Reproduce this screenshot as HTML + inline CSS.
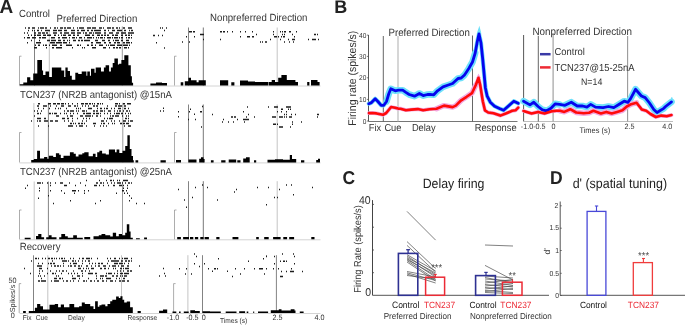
<!DOCTYPE html>
<html><head><meta charset="utf-8"><style>
html,body{margin:0;padding:0;background:#fff;}
svg{display:block;font-family:"Liberation Sans", sans-serif;will-change:transform;text-rendering:geometricPrecision;}
</style></head><body>
<svg width="685" height="325" viewBox="0 0 685 325">
<rect width="685" height="325" fill="#fff"/>
<text transform="translate(-0.6,13.1) scale(1,1.02)" font-size="19" fill="#222" text-anchor="start" font-weight="bold" >A</text>
<text transform="translate(19.0,16.7) scale(1,1.08)" font-size="9.6" fill="#333" text-anchor="start" font-weight="normal" >Control</text>
<text transform="translate(56.5,22.4) scale(1,1.08)" font-size="9.63" fill="#333" text-anchor="start" font-weight="normal" >Preferred Direction</text>
<text transform="translate(210.1,21.0) scale(1,1.08)" font-size="9.63" fill="#333" text-anchor="start" font-weight="normal" >Nonpreferred Direction</text>
<text transform="translate(20.0,97.6) scale(1,1.08)" font-size="9.58" fill="#333" text-anchor="start" font-weight="normal" >TCN237 (NR2B antagonist) @15nA</text>
<text transform="translate(20.0,174.9) scale(1,1.08)" font-size="9.58" fill="#333" text-anchor="start" font-weight="normal" >TCN237 (NR2B antagonist) @25nA</text>
<text transform="translate(19.8,249.7) scale(1,1.08)" font-size="9.65" fill="#333" text-anchor="start" font-weight="normal" >Recovery</text>
<line x1="19.5" y1="86.0" x2="320.5" y2="86.0" stroke="#cfcfcf" stroke-width="0.9" />
<line x1="34.5" y1="30.5" x2="34.5" y2="85.5" stroke="#5a5a5a" stroke-width="0.75" />
<line x1="49.3" y1="31.0" x2="49.3" y2="85.5" stroke="#c4c4c4" stroke-width="1.0" />
<line x1="122.3" y1="26.5" x2="122.3" y2="85.5" stroke="#9a9a9a" stroke-width="1.0" />
<line x1="188.5" y1="27.5" x2="188.5" y2="85.5" stroke="#5a5a5a" stroke-width="0.75" />
<line x1="203.3" y1="27.5" x2="203.3" y2="85.5" stroke="#777" stroke-width="1.0" />
<line x1="277.2" y1="27.5" x2="277.2" y2="85.5" stroke="#c4c4c4" stroke-width="1.0" />
<line x1="19.5" y1="56.2" x2="19.5" y2="85.5" stroke="#8a8a8a" stroke-width="0.7" />
<line x1="19.5" y1="56.2" x2="21.5" y2="56.2" stroke="#8a8a8a" stroke-width="0.7" />
<line x1="174.5" y1="56.2" x2="174.5" y2="85.5" stroke="#8a8a8a" stroke-width="0.7" />
<line x1="174.5" y1="56.2" x2="176.5" y2="56.2" stroke="#8a8a8a" stroke-width="0.7" />
<path d="M25.00 27.15h1.00v1.5h-1.00ZM28.00 27.15h1.00v1.5h-1.00ZM29.00 27.15h1.00v1.5h-1.00ZM32.00 27.15h1.00v1.5h-1.00ZM33.00 27.15h1.00v1.5h-1.00ZM34.00 27.15h1.00v1.5h-1.00ZM38.00 27.15h1.00v1.5h-1.00ZM40.00 27.15h1.00v1.5h-1.00ZM41.00 27.15h1.00v1.5h-1.00ZM42.00 27.15h1.00v1.5h-1.00ZM43.00 27.15h1.00v1.5h-1.00ZM45.00 27.15h1.00v1.5h-1.00ZM46.00 27.15h1.00v1.5h-1.00ZM50.00 27.15h1.00v1.5h-1.00ZM54.00 27.15h1.00v1.5h-1.00ZM55.00 27.15h1.00v1.5h-1.00ZM57.00 27.15h1.00v1.5h-1.00ZM60.00 27.15h1.00v1.5h-1.00ZM61.00 27.15h1.00v1.5h-1.00ZM62.00 27.15h1.00v1.5h-1.00ZM64.00 27.15h1.00v1.5h-1.00ZM65.00 27.15h1.00v1.5h-1.00ZM67.00 27.15h1.00v1.5h-1.00ZM68.00 27.15h1.00v1.5h-1.00ZM69.00 27.15h1.00v1.5h-1.00ZM70.00 27.15h1.00v1.5h-1.00ZM73.00 27.15h1.00v1.5h-1.00ZM77.00 27.15h1.00v1.5h-1.00ZM79.00 27.15h1.00v1.5h-1.00ZM80.00 27.15h1.00v1.5h-1.00ZM81.00 27.15h1.00v1.5h-1.00ZM82.00 27.15h1.00v1.5h-1.00ZM83.00 27.15h1.00v1.5h-1.00ZM87.00 27.15h1.00v1.5h-1.00ZM88.00 27.15h1.00v1.5h-1.00ZM89.00 27.15h1.00v1.5h-1.00ZM90.00 27.15h1.00v1.5h-1.00ZM92.00 27.15h1.00v1.5h-1.00ZM93.00 27.15h1.00v1.5h-1.00ZM94.00 27.15h1.00v1.5h-1.00ZM95.00 27.15h1.00v1.5h-1.00ZM99.00 27.15h1.00v1.5h-1.00ZM100.00 27.15h1.00v1.5h-1.00ZM101.00 27.15h1.00v1.5h-1.00ZM103.00 27.15h1.00v1.5h-1.00ZM107.00 27.15h1.00v1.5h-1.00ZM108.00 27.15h1.00v1.5h-1.00ZM109.00 27.15h1.00v1.5h-1.00ZM110.00 27.15h1.00v1.5h-1.00ZM112.00 27.15h1.00v1.5h-1.00ZM113.00 27.15h1.00v1.5h-1.00ZM116.00 27.15h1.00v1.5h-1.00ZM117.00 27.15h1.00v1.5h-1.00ZM119.00 27.15h1.00v1.5h-1.00ZM123.00 27.15h1.00v1.5h-1.00ZM124.00 27.15h1.00v1.5h-1.00ZM128.00 27.15h1.00v1.5h-1.00ZM129.00 27.15h1.00v1.5h-1.00ZM130.00 27.15h1.00v1.5h-1.00ZM131.00 27.15h1.00v1.5h-1.00Z" fill="#1c1c1c"/>
<path d="M28.00 29.65h1.00v1.5h-1.00ZM32.00 29.65h1.00v1.5h-1.00ZM34.00 29.65h1.00v1.5h-1.00ZM37.00 29.65h1.00v1.5h-1.00ZM38.00 29.65h1.00v1.5h-1.00ZM41.00 29.65h1.00v1.5h-1.00ZM45.00 29.65h1.00v1.5h-1.00ZM46.00 29.65h1.00v1.5h-1.00ZM47.00 29.65h1.00v1.5h-1.00ZM48.00 29.65h1.00v1.5h-1.00ZM49.00 29.65h1.00v1.5h-1.00ZM53.00 29.65h1.00v1.5h-1.00ZM54.00 29.65h1.00v1.5h-1.00ZM55.00 29.65h1.00v1.5h-1.00ZM56.00 29.65h1.00v1.5h-1.00ZM58.00 29.65h1.00v1.5h-1.00ZM59.00 29.65h1.00v1.5h-1.00ZM60.00 29.65h1.00v1.5h-1.00ZM61.00 29.65h1.00v1.5h-1.00ZM64.00 29.65h1.00v1.5h-1.00ZM65.00 29.65h1.00v1.5h-1.00ZM66.00 29.65h1.00v1.5h-1.00ZM71.00 29.65h1.00v1.5h-1.00ZM72.00 29.65h1.00v1.5h-1.00ZM73.00 29.65h1.00v1.5h-1.00ZM74.00 29.65h1.00v1.5h-1.00ZM77.00 29.65h1.00v1.5h-1.00ZM78.00 29.65h1.00v1.5h-1.00ZM81.00 29.65h1.00v1.5h-1.00ZM82.00 29.65h1.00v1.5h-1.00ZM83.00 29.65h1.00v1.5h-1.00ZM84.00 29.65h1.00v1.5h-1.00ZM87.00 29.65h1.00v1.5h-1.00ZM88.00 29.65h1.00v1.5h-1.00ZM91.00 29.65h1.00v1.5h-1.00ZM92.00 29.65h1.00v1.5h-1.00ZM94.00 29.65h1.00v1.5h-1.00ZM95.00 29.65h1.00v1.5h-1.00ZM96.00 29.65h1.00v1.5h-1.00ZM97.00 29.65h1.00v1.5h-1.00ZM98.00 29.65h1.00v1.5h-1.00ZM99.00 29.65h1.00v1.5h-1.00ZM100.00 29.65h1.00v1.5h-1.00ZM104.00 29.65h1.00v1.5h-1.00ZM105.00 29.65h1.00v1.5h-1.00ZM108.00 29.65h1.00v1.5h-1.00ZM112.00 29.65h1.00v1.5h-1.00ZM113.00 29.65h1.00v1.5h-1.00ZM114.00 29.65h1.00v1.5h-1.00ZM117.00 29.65h1.00v1.5h-1.00ZM118.00 29.65h1.00v1.5h-1.00ZM119.00 29.65h1.00v1.5h-1.00ZM120.00 29.65h1.00v1.5h-1.00ZM121.00 29.65h1.00v1.5h-1.00ZM124.00 29.65h1.00v1.5h-1.00ZM125.00 29.65h1.00v1.5h-1.00ZM129.00 29.65h1.00v1.5h-1.00ZM131.00 29.65h1.00v1.5h-1.00ZM132.00 29.65h1.00v1.5h-1.00Z" fill="#1c1c1c"/>
<path d="M24.00 32.15h1.00v1.5h-1.00ZM27.00 32.15h1.00v1.5h-1.00ZM34.00 32.15h1.00v1.5h-1.00ZM35.00 32.15h1.00v1.5h-1.00ZM38.00 32.15h1.00v1.5h-1.00ZM39.00 32.15h1.00v1.5h-1.00ZM40.00 32.15h1.00v1.5h-1.00ZM42.00 32.15h1.00v1.5h-1.00ZM43.00 32.15h1.00v1.5h-1.00ZM44.00 32.15h1.00v1.5h-1.00ZM46.00 32.15h1.00v1.5h-1.00ZM47.00 32.15h1.00v1.5h-1.00ZM53.00 32.15h1.00v1.5h-1.00ZM54.00 32.15h1.00v1.5h-1.00ZM55.00 32.15h1.00v1.5h-1.00ZM56.00 32.15h1.00v1.5h-1.00ZM60.00 32.15h1.00v1.5h-1.00ZM61.00 32.15h1.00v1.5h-1.00ZM64.00 32.15h1.00v1.5h-1.00ZM65.00 32.15h1.00v1.5h-1.00ZM66.00 32.15h1.00v1.5h-1.00ZM67.00 32.15h1.00v1.5h-1.00ZM68.00 32.15h1.00v1.5h-1.00ZM71.00 32.15h1.00v1.5h-1.00ZM72.00 32.15h1.00v1.5h-1.00ZM73.00 32.15h1.00v1.5h-1.00ZM74.00 32.15h1.00v1.5h-1.00ZM77.00 32.15h1.00v1.5h-1.00ZM78.00 32.15h1.00v1.5h-1.00ZM79.00 32.15h1.00v1.5h-1.00ZM80.00 32.15h1.00v1.5h-1.00ZM83.00 32.15h1.00v1.5h-1.00ZM85.00 32.15h1.00v1.5h-1.00ZM86.00 32.15h1.00v1.5h-1.00ZM89.00 32.15h1.00v1.5h-1.00ZM90.00 32.15h1.00v1.5h-1.00ZM91.00 32.15h1.00v1.5h-1.00ZM93.00 32.15h1.00v1.5h-1.00ZM95.00 32.15h1.00v1.5h-1.00ZM96.00 32.15h1.00v1.5h-1.00ZM97.00 32.15h1.00v1.5h-1.00ZM98.00 32.15h1.00v1.5h-1.00ZM99.00 32.15h1.00v1.5h-1.00ZM100.00 32.15h1.00v1.5h-1.00ZM104.00 32.15h1.00v1.5h-1.00ZM105.00 32.15h1.00v1.5h-1.00ZM109.00 32.15h1.00v1.5h-1.00ZM110.00 32.15h1.00v1.5h-1.00ZM111.00 32.15h1.00v1.5h-1.00ZM112.00 32.15h1.00v1.5h-1.00ZM116.00 32.15h1.00v1.5h-1.00ZM117.00 32.15h1.00v1.5h-1.00ZM118.00 32.15h1.00v1.5h-1.00ZM121.00 32.15h1.00v1.5h-1.00ZM122.00 32.15h1.00v1.5h-1.00ZM123.00 32.15h1.00v1.5h-1.00ZM124.00 32.15h1.00v1.5h-1.00ZM125.00 32.15h1.00v1.5h-1.00ZM128.00 32.15h1.00v1.5h-1.00ZM129.00 32.15h1.00v1.5h-1.00ZM130.00 32.15h1.00v1.5h-1.00ZM131.00 32.15h1.00v1.5h-1.00ZM132.00 32.15h1.00v1.5h-1.00ZM133.00 32.15h1.00v1.5h-1.00Z" fill="#1c1c1c"/>
<path d="M28.00 34.55h1.00v1.5h-1.00ZM31.00 34.55h1.00v1.5h-1.00ZM34.00 34.55h1.00v1.5h-1.00ZM35.00 34.55h1.00v1.5h-1.00ZM37.00 34.55h1.00v1.5h-1.00ZM38.00 34.55h1.00v1.5h-1.00ZM39.00 34.55h1.00v1.5h-1.00ZM40.00 34.55h1.00v1.5h-1.00ZM43.00 34.55h1.00v1.5h-1.00ZM44.00 34.55h1.00v1.5h-1.00ZM45.00 34.55h1.00v1.5h-1.00ZM47.00 34.55h1.00v1.5h-1.00ZM48.00 34.55h1.00v1.5h-1.00ZM49.00 34.55h1.00v1.5h-1.00ZM50.00 34.55h1.00v1.5h-1.00ZM54.00 34.55h1.00v1.5h-1.00ZM55.00 34.55h1.00v1.5h-1.00ZM58.00 34.55h1.00v1.5h-1.00ZM61.00 34.55h1.00v1.5h-1.00ZM63.00 34.55h1.00v1.5h-1.00ZM64.00 34.55h1.00v1.5h-1.00ZM65.00 34.55h1.00v1.5h-1.00ZM68.00 34.55h1.00v1.5h-1.00ZM69.00 34.55h1.00v1.5h-1.00ZM70.00 34.55h1.00v1.5h-1.00ZM73.00 34.55h1.00v1.5h-1.00ZM74.00 34.55h1.00v1.5h-1.00ZM77.00 34.55h1.00v1.5h-1.00ZM78.00 34.55h1.00v1.5h-1.00ZM85.00 34.55h1.00v1.5h-1.00ZM86.00 34.55h1.00v1.5h-1.00ZM87.00 34.55h1.00v1.5h-1.00ZM88.00 34.55h1.00v1.5h-1.00ZM89.00 34.55h1.00v1.5h-1.00ZM92.00 34.55h1.00v1.5h-1.00ZM93.00 34.55h1.00v1.5h-1.00ZM97.00 34.55h1.00v1.5h-1.00ZM98.00 34.55h1.00v1.5h-1.00ZM99.00 34.55h1.00v1.5h-1.00ZM101.00 34.55h1.00v1.5h-1.00ZM102.00 34.55h1.00v1.5h-1.00ZM104.00 34.55h1.00v1.5h-1.00ZM105.00 34.55h1.00v1.5h-1.00ZM107.00 34.55h1.00v1.5h-1.00ZM108.00 34.55h1.00v1.5h-1.00ZM112.00 34.55h1.00v1.5h-1.00ZM113.00 34.55h1.00v1.5h-1.00ZM115.00 34.55h1.00v1.5h-1.00ZM116.00 34.55h1.00v1.5h-1.00ZM117.00 34.55h1.00v1.5h-1.00ZM121.00 34.55h1.00v1.5h-1.00ZM122.00 34.55h1.00v1.5h-1.00ZM125.00 34.55h1.00v1.5h-1.00ZM126.00 34.55h1.00v1.5h-1.00ZM128.00 34.55h1.00v1.5h-1.00ZM129.00 34.55h1.00v1.5h-1.00ZM131.00 34.55h1.00v1.5h-1.00Z" fill="#1c1c1c"/>
<path d="M24.00 37.05h1.00v1.5h-1.00ZM27.00 37.05h1.00v1.5h-1.00ZM28.00 37.05h1.00v1.5h-1.00ZM29.00 37.05h1.00v1.5h-1.00ZM32.00 37.05h1.00v1.5h-1.00ZM33.00 37.05h1.00v1.5h-1.00ZM34.00 37.05h1.00v1.5h-1.00ZM35.00 37.05h1.00v1.5h-1.00ZM39.00 37.05h1.00v1.5h-1.00ZM40.00 37.05h1.00v1.5h-1.00ZM42.00 37.05h1.00v1.5h-1.00ZM43.00 37.05h1.00v1.5h-1.00ZM44.00 37.05h1.00v1.5h-1.00ZM45.00 37.05h1.00v1.5h-1.00ZM51.00 37.05h1.00v1.5h-1.00ZM52.00 37.05h1.00v1.5h-1.00ZM53.00 37.05h1.00v1.5h-1.00ZM54.00 37.05h1.00v1.5h-1.00ZM58.00 37.05h1.00v1.5h-1.00ZM59.00 37.05h1.00v1.5h-1.00ZM62.00 37.05h1.00v1.5h-1.00ZM63.00 37.05h1.00v1.5h-1.00ZM64.00 37.05h1.00v1.5h-1.00ZM65.00 37.05h1.00v1.5h-1.00ZM66.00 37.05h1.00v1.5h-1.00ZM69.00 37.05h1.00v1.5h-1.00ZM72.00 37.05h1.00v1.5h-1.00ZM73.00 37.05h1.00v1.5h-1.00ZM74.00 37.05h1.00v1.5h-1.00ZM76.00 37.05h1.00v1.5h-1.00ZM79.00 37.05h1.00v1.5h-1.00ZM80.00 37.05h1.00v1.5h-1.00ZM81.00 37.05h1.00v1.5h-1.00ZM84.00 37.05h1.00v1.5h-1.00ZM87.00 37.05h1.00v1.5h-1.00ZM88.00 37.05h1.00v1.5h-1.00ZM89.00 37.05h1.00v1.5h-1.00ZM90.00 37.05h1.00v1.5h-1.00ZM91.00 37.05h1.00v1.5h-1.00ZM93.00 37.05h1.00v1.5h-1.00ZM96.00 37.05h1.00v1.5h-1.00ZM98.00 37.05h1.00v1.5h-1.00ZM100.00 37.05h1.00v1.5h-1.00ZM101.00 37.05h1.00v1.5h-1.00ZM102.00 37.05h1.00v1.5h-1.00ZM104.00 37.05h1.00v1.5h-1.00ZM107.00 37.05h1.00v1.5h-1.00ZM108.00 37.05h1.00v1.5h-1.00ZM109.00 37.05h1.00v1.5h-1.00ZM110.00 37.05h1.00v1.5h-1.00ZM112.00 37.05h1.00v1.5h-1.00ZM114.00 37.05h1.00v1.5h-1.00ZM115.00 37.05h1.00v1.5h-1.00ZM116.00 37.05h1.00v1.5h-1.00ZM117.00 37.05h1.00v1.5h-1.00ZM119.00 37.05h1.00v1.5h-1.00ZM121.00 37.05h1.00v1.5h-1.00ZM122.00 37.05h1.00v1.5h-1.00ZM126.00 37.05h1.00v1.5h-1.00ZM128.00 37.05h1.00v1.5h-1.00ZM129.00 37.05h1.00v1.5h-1.00ZM131.00 37.05h1.00v1.5h-1.00Z" fill="#1c1c1c"/>
<path d="M31.00 39.65h1.00v1.5h-1.00ZM39.00 39.65h1.00v1.5h-1.00ZM47.00 39.65h1.00v1.5h-1.00ZM48.00 39.65h1.00v1.5h-1.00ZM49.00 39.65h1.00v1.5h-1.00ZM51.00 39.65h1.00v1.5h-1.00ZM52.00 39.65h1.00v1.5h-1.00ZM53.00 39.65h1.00v1.5h-1.00ZM54.00 39.65h1.00v1.5h-1.00ZM55.00 39.65h1.00v1.5h-1.00ZM58.00 39.65h1.00v1.5h-1.00ZM59.00 39.65h1.00v1.5h-1.00ZM60.00 39.65h1.00v1.5h-1.00ZM63.00 39.65h1.00v1.5h-1.00ZM64.00 39.65h1.00v1.5h-1.00ZM67.00 39.65h1.00v1.5h-1.00ZM69.00 39.65h1.00v1.5h-1.00ZM73.00 39.65h1.00v1.5h-1.00ZM74.00 39.65h1.00v1.5h-1.00ZM75.00 39.65h1.00v1.5h-1.00ZM78.00 39.65h1.00v1.5h-1.00ZM79.00 39.65h1.00v1.5h-1.00ZM81.00 39.65h1.00v1.5h-1.00ZM82.00 39.65h1.00v1.5h-1.00ZM84.00 39.65h1.00v1.5h-1.00ZM85.00 39.65h1.00v1.5h-1.00ZM86.00 39.65h1.00v1.5h-1.00ZM87.00 39.65h1.00v1.5h-1.00ZM88.00 39.65h1.00v1.5h-1.00ZM89.00 39.65h1.00v1.5h-1.00ZM95.00 39.65h1.00v1.5h-1.00ZM96.00 39.65h1.00v1.5h-1.00ZM97.00 39.65h1.00v1.5h-1.00ZM102.00 39.65h1.00v1.5h-1.00ZM103.00 39.65h1.00v1.5h-1.00ZM104.00 39.65h1.00v1.5h-1.00ZM108.00 39.65h1.00v1.5h-1.00ZM109.00 39.65h1.00v1.5h-1.00ZM113.00 39.65h1.00v1.5h-1.00ZM115.00 39.65h1.00v1.5h-1.00ZM116.00 39.65h1.00v1.5h-1.00ZM117.00 39.65h1.00v1.5h-1.00ZM118.00 39.65h1.00v1.5h-1.00ZM121.00 39.65h1.00v1.5h-1.00ZM122.00 39.65h1.00v1.5h-1.00ZM126.00 39.65h1.00v1.5h-1.00ZM127.00 39.65h1.00v1.5h-1.00ZM128.00 39.65h1.00v1.5h-1.00Z" fill="#1c1c1c"/>
<path d="M27.00 42.05h1.00v1.5h-1.00ZM36.00 42.05h1.00v1.5h-1.00ZM37.00 42.05h1.00v1.5h-1.00ZM38.00 42.05h1.00v1.5h-1.00ZM39.00 42.05h1.00v1.5h-1.00ZM40.00 42.05h1.00v1.5h-1.00ZM50.00 42.05h1.00v1.5h-1.00ZM51.00 42.05h1.00v1.5h-1.00ZM52.00 42.05h1.00v1.5h-1.00ZM53.00 42.05h1.00v1.5h-1.00ZM54.00 42.05h1.00v1.5h-1.00ZM56.00 42.05h1.00v1.5h-1.00ZM57.00 42.05h1.00v1.5h-1.00ZM58.00 42.05h1.00v1.5h-1.00ZM59.00 42.05h1.00v1.5h-1.00ZM60.00 42.05h1.00v1.5h-1.00ZM61.00 42.05h1.00v1.5h-1.00ZM63.00 42.05h1.00v1.5h-1.00ZM64.00 42.05h1.00v1.5h-1.00ZM65.00 42.05h1.00v1.5h-1.00ZM66.00 42.05h1.00v1.5h-1.00ZM69.00 42.05h1.00v1.5h-1.00ZM91.00 42.05h1.00v1.5h-1.00ZM92.00 42.05h1.00v1.5h-1.00ZM96.00 42.05h1.00v1.5h-1.00ZM97.00 42.05h1.00v1.5h-1.00ZM98.00 42.05h1.00v1.5h-1.00ZM99.00 42.05h1.00v1.5h-1.00ZM100.00 42.05h1.00v1.5h-1.00ZM104.00 42.05h1.00v1.5h-1.00ZM105.00 42.05h1.00v1.5h-1.00ZM109.00 42.05h1.00v1.5h-1.00ZM110.00 42.05h1.00v1.5h-1.00ZM114.00 42.05h1.00v1.5h-1.00ZM115.00 42.05h1.00v1.5h-1.00ZM117.00 42.05h1.00v1.5h-1.00ZM118.00 42.05h1.00v1.5h-1.00ZM119.00 42.05h1.00v1.5h-1.00ZM123.00 42.05h1.00v1.5h-1.00ZM124.00 42.05h1.00v1.5h-1.00ZM126.00 42.05h1.00v1.5h-1.00ZM127.00 42.05h1.00v1.5h-1.00ZM128.00 42.05h1.00v1.5h-1.00ZM129.00 42.05h1.00v1.5h-1.00ZM131.00 42.05h1.00v1.5h-1.00Z" fill="#1c1c1c"/>
<path d="M35.00 44.55h1.00v1.5h-1.00ZM38.00 44.55h1.00v1.5h-1.00ZM39.00 44.55h1.00v1.5h-1.00ZM43.00 44.55h1.00v1.5h-1.00ZM45.00 44.55h1.00v1.5h-1.00ZM46.00 44.55h1.00v1.5h-1.00ZM49.00 44.55h1.00v1.5h-1.00ZM52.00 44.55h1.00v1.5h-1.00ZM53.00 44.55h1.00v1.5h-1.00ZM54.00 44.55h1.00v1.5h-1.00ZM55.00 44.55h1.00v1.5h-1.00ZM56.00 44.55h1.00v1.5h-1.00ZM60.00 44.55h1.00v1.5h-1.00ZM61.00 44.55h1.00v1.5h-1.00ZM66.00 44.55h1.00v1.5h-1.00ZM67.00 44.55h1.00v1.5h-1.00ZM68.00 44.55h1.00v1.5h-1.00ZM69.00 44.55h1.00v1.5h-1.00ZM70.00 44.55h1.00v1.5h-1.00ZM71.00 44.55h1.00v1.5h-1.00ZM77.00 44.55h1.00v1.5h-1.00ZM78.00 44.55h1.00v1.5h-1.00ZM80.00 44.55h1.00v1.5h-1.00ZM87.00 44.55h1.00v1.5h-1.00ZM88.00 44.55h1.00v1.5h-1.00ZM91.00 44.55h1.00v1.5h-1.00ZM92.00 44.55h1.00v1.5h-1.00ZM95.00 44.55h1.00v1.5h-1.00ZM99.00 44.55h1.00v1.5h-1.00ZM100.00 44.55h1.00v1.5h-1.00ZM101.00 44.55h1.00v1.5h-1.00ZM102.00 44.55h1.00v1.5h-1.00ZM106.00 44.55h1.00v1.5h-1.00ZM108.00 44.55h1.00v1.5h-1.00ZM110.00 44.55h1.00v1.5h-1.00ZM111.00 44.55h1.00v1.5h-1.00ZM112.00 44.55h1.00v1.5h-1.00ZM113.00 44.55h1.00v1.5h-1.00ZM114.00 44.55h1.00v1.5h-1.00ZM117.00 44.55h1.00v1.5h-1.00ZM118.00 44.55h1.00v1.5h-1.00ZM119.00 44.55h1.00v1.5h-1.00ZM120.00 44.55h1.00v1.5h-1.00ZM121.00 44.55h1.00v1.5h-1.00ZM123.00 44.55h1.00v1.5h-1.00ZM124.00 44.55h1.00v1.5h-1.00ZM125.00 44.55h1.00v1.5h-1.00ZM126.00 44.55h1.00v1.5h-1.00ZM127.00 44.55h1.00v1.5h-1.00ZM129.00 44.55h1.00v1.5h-1.00Z" fill="#1c1c1c"/>
<path d="M34.00 47.05h1.00v1.5h-1.00ZM35.00 47.05h1.00v1.5h-1.00ZM36.00 47.05h1.00v1.5h-1.00ZM46.00 47.05h1.00v1.5h-1.00ZM52.00 47.05h1.00v1.5h-1.00ZM53.00 47.05h1.00v1.5h-1.00ZM56.00 47.05h1.00v1.5h-1.00ZM57.00 47.05h1.00v1.5h-1.00ZM58.00 47.05h1.00v1.5h-1.00ZM59.00 47.05h1.00v1.5h-1.00ZM60.00 47.05h1.00v1.5h-1.00ZM61.00 47.05h1.00v1.5h-1.00ZM72.00 47.05h1.00v1.5h-1.00ZM82.00 47.05h1.00v1.5h-1.00ZM84.00 47.05h1.00v1.5h-1.00ZM92.00 47.05h1.00v1.5h-1.00ZM93.00 47.05h1.00v1.5h-1.00ZM94.00 47.05h1.00v1.5h-1.00ZM95.00 47.05h1.00v1.5h-1.00ZM103.00 47.05h1.00v1.5h-1.00ZM104.00 47.05h1.00v1.5h-1.00ZM105.00 47.05h1.00v1.5h-1.00ZM109.00 47.05h1.00v1.5h-1.00ZM113.00 47.05h1.00v1.5h-1.00ZM114.00 47.05h1.00v1.5h-1.00ZM116.00 47.05h1.00v1.5h-1.00ZM117.00 47.05h1.00v1.5h-1.00ZM119.00 47.05h1.00v1.5h-1.00ZM120.00 47.05h1.00v1.5h-1.00ZM124.00 47.05h1.00v1.5h-1.00ZM125.00 47.05h1.00v1.5h-1.00ZM126.00 47.05h1.00v1.5h-1.00ZM128.00 47.05h1.00v1.5h-1.00Z" fill="#1c1c1c"/>
<path d="M160.00 27.15h1.00v1.5h-1.00ZM162.00 27.15h1.00v1.5h-1.00ZM166.00 27.15h1.00v1.5h-1.00Z" fill="#1c1c1c"/>
<path d="M164.00 29.85h1.00v1.5h-1.00Z" fill="#1c1c1c"/>
<path d="M153.00 34.65h1.00v1.5h-1.00ZM154.00 34.65h1.00v1.5h-1.00ZM158.00 34.65h1.00v1.5h-1.00ZM162.00 34.65h1.00v1.5h-1.00Z" fill="#1c1c1c"/>
<path d="M156.00 42.05h1.00v1.5h-1.00Z" fill="#1c1c1c"/>
<path d="M164.00 47.25h1.00v1.5h-1.00Z" fill="#1c1c1c"/>
<path d="M186.00 36.05h1.00v1.5h-1.00ZM194.00 36.05h1.00v1.5h-1.00ZM240.00 36.05h1.00v1.5h-1.00ZM247.00 36.05h1.00v1.5h-1.00ZM248.00 36.05h1.00v1.5h-1.00ZM249.00 36.05h1.00v1.5h-1.00ZM252.00 36.05h1.00v1.5h-1.00ZM253.00 36.05h1.00v1.5h-1.00ZM274.00 36.05h1.00v1.5h-1.00ZM275.00 36.05h1.00v1.5h-1.00ZM276.00 36.05h1.00v1.5h-1.00ZM278.00 36.05h1.00v1.5h-1.00ZM281.00 36.05h1.00v1.5h-1.00ZM283.00 36.05h1.00v1.5h-1.00ZM284.00 36.05h1.00v1.5h-1.00ZM294.00 36.05h1.00v1.5h-1.00Z" fill="#1c1c1c"/>
<path d="M182.00 41.25h1.00v1.5h-1.00ZM189.00 41.25h1.00v1.5h-1.00ZM260.00 41.25h1.00v1.5h-1.00ZM262.00 41.25h1.00v1.5h-1.00ZM265.00 41.25h1.00v1.5h-1.00ZM266.00 41.25h1.00v1.5h-1.00ZM284.00 41.25h1.00v1.5h-1.00ZM289.00 41.25h1.00v1.5h-1.00ZM293.00 41.25h1.00v1.5h-1.00Z" fill="#1c1c1c"/>
<path d="M189.00 31.05h1.00v1.5h-1.00ZM190.00 31.05h1.00v1.5h-1.00ZM191.00 31.05h1.00v1.5h-1.00ZM193.00 31.05h1.00v1.5h-1.00ZM194.00 31.05h1.00v1.5h-1.00ZM220.00 31.05h1.00v1.5h-1.00ZM221.00 31.05h1.00v1.5h-1.00ZM223.00 31.05h1.00v1.5h-1.00ZM224.00 31.05h1.00v1.5h-1.00ZM227.00 31.05h1.00v1.5h-1.00ZM232.00 31.05h1.00v1.5h-1.00ZM240.00 31.05h1.00v1.5h-1.00ZM245.00 31.05h1.00v1.5h-1.00ZM252.00 31.05h1.00v1.5h-1.00ZM273.00 31.05h1.00v1.5h-1.00ZM280.00 31.05h1.00v1.5h-1.00ZM282.00 31.05h1.00v1.5h-1.00ZM284.00 31.05h1.00v1.5h-1.00ZM285.00 31.05h1.00v1.5h-1.00ZM289.00 31.05h1.00v1.5h-1.00ZM290.00 31.05h1.00v1.5h-1.00ZM296.00 31.05h1.00v1.5h-1.00Z" fill="#1c1c1c"/>
<path d="M200.00 33.65h1.00v1.5h-1.00ZM201.00 33.65h1.00v1.5h-1.00ZM202.00 33.65h1.00v1.5h-1.00ZM203.00 33.65h1.00v1.5h-1.00ZM256.00 33.65h1.00v1.5h-1.00ZM273.00 33.65h1.00v1.5h-1.00ZM282.00 33.65h1.00v1.5h-1.00ZM284.00 33.65h1.00v1.5h-1.00ZM292.00 33.65h1.00v1.5h-1.00ZM314.00 33.65h1.00v1.5h-1.00ZM315.00 33.65h1.00v1.5h-1.00ZM317.00 33.65h1.00v1.5h-1.00Z" fill="#1c1c1c"/>
<path d="M203.00 38.65h1.00v1.5h-1.00ZM220.00 38.65h1.00v1.5h-1.00ZM270.00 38.65h1.00v1.5h-1.00ZM280.00 38.65h1.00v1.5h-1.00ZM288.00 38.65h1.00v1.5h-1.00ZM292.00 38.65h1.00v1.5h-1.00ZM293.00 38.65h1.00v1.5h-1.00ZM294.00 38.65h1.00v1.5h-1.00ZM308.00 38.65h1.00v1.5h-1.00ZM312.00 38.65h1.00v1.5h-1.00ZM313.00 38.65h1.00v1.5h-1.00ZM314.00 38.65h1.00v1.5h-1.00ZM315.00 38.65h1.00v1.5h-1.00ZM318.00 38.65h1.00v1.5h-1.00Z" fill="#1c1c1c"/>
<path d="M19.80 85.50V84.30H23.30V85.50ZM23.30 85.50V82.50H27.10V85.50ZM27.10 85.50V77.30H30.30V85.50ZM30.30 85.50V80.20H33.20V85.50ZM33.20 85.50V73.40H37.30V85.50ZM37.30 85.50V60.00H42.00V85.50ZM42.00 85.50V70.50H43.10V85.50ZM43.10 85.50V75.00H45.50V85.50ZM45.50 85.50V71.60H49.00V85.50ZM49.00 85.50V77.00H51.90V85.50ZM51.90 85.50V67.50H61.30V85.50ZM61.30 85.50V70.50H64.20V85.50ZM64.20 85.50V77.00H65.40V85.50ZM65.40 85.50V67.50H67.70V85.50ZM67.70 85.50V71.00H70.00V85.50ZM70.00 85.50V75.70H71.80V85.50ZM71.80 85.50V79.80H75.30V85.50ZM75.30 85.50V72.80H78.20V85.50ZM78.20 85.50V74.00H81.70V85.50ZM81.70 85.50V71.60H86.40V85.50ZM86.40 85.50V75.70H87.30V85.50ZM87.30 85.50V71.60H89.90V85.50ZM89.90 85.50V75.70H91.00V85.50ZM91.00 85.50V68.70H94.50V85.50ZM94.50 85.50V72.80H95.70V85.50ZM95.70 85.50V67.50H101.00V85.50ZM101.00 85.50V71.60H103.90V85.50ZM103.90 85.50V67.50H105.60V85.50ZM105.60 85.50V65.20H109.10V85.50ZM109.10 85.50V71.60H110.90V85.50ZM110.90 85.50V67.50H112.70V85.50ZM112.70 85.50V62.90H114.40V85.50ZM114.40 85.50V58.40H117.90V85.50ZM117.90 85.50V64.60H119.10V85.50ZM119.10 85.50V63.80H121.40V85.50ZM121.40 85.50V60.00H124.30V85.50ZM124.30 85.50V55.30H128.40V85.50ZM128.40 85.50V65.20H130.80V85.50ZM130.80 85.50V76.30H131.90V85.50ZM131.90 85.50V82.70H133.10V85.50ZM150.40 85.50V83.60H156.00V85.50ZM156.00 85.50V82.60H162.00V85.50ZM162.00 85.50V83.00H167.00V85.50ZM180.70 85.50V82.30H183.30V85.50ZM184.80 85.50V81.30H188.40V85.50ZM188.40 85.50V77.70H191.00V85.50ZM191.00 85.50V80.30H196.60V85.50ZM196.60 85.50V82.30H198.60V85.50ZM198.60 85.50V80.30H205.80V85.50ZM220.00 85.50V80.30H228.20V85.50ZM231.30 85.50V82.30H234.40V85.50ZM240.00 85.50V80.50H248.00V85.50ZM248.00 85.50V81.50H255.00V85.50ZM255.00 85.50V82.10H268.50V85.50ZM269.00 85.50V82.00H271.70V85.50ZM271.70 85.50V80.00H275.00V85.50ZM275.00 85.50V82.00H278.20V85.50ZM278.20 85.50V77.80H281.40V85.50ZM281.40 85.50V75.00H286.80V85.50ZM286.80 85.50V80.00H295.40V85.50ZM295.40 85.50V82.00H298.00V85.50ZM307.20 85.50V82.00H309.40V85.50ZM311.00 85.50V80.00H317.50V85.50ZM317.50 85.50V82.00H319.60V85.50Z" fill="#000"/>
<line x1="19.5" y1="162.9" x2="320.5" y2="162.9" stroke="#cfcfcf" stroke-width="0.9" />
<line x1="33.9" y1="103.0" x2="33.9" y2="162.4" stroke="#c4c4c4" stroke-width="1.0" />
<line x1="48.4" y1="102.8" x2="48.4" y2="162.4" stroke="#5a5a5a" stroke-width="0.75" />
<line x1="122.8" y1="102.8" x2="122.8" y2="162.4" stroke="#9a9a9a" stroke-width="1.0" />
<line x1="188.5" y1="104.5" x2="188.5" y2="162.4" stroke="#5a5a5a" stroke-width="0.75" />
<line x1="203.3" y1="104.5" x2="203.3" y2="162.4" stroke="#777" stroke-width="1.0" />
<line x1="277.2" y1="104.5" x2="277.2" y2="162.4" stroke="#c4c4c4" stroke-width="1.0" />
<line x1="19.5" y1="132.5" x2="19.5" y2="162.4" stroke="#8a8a8a" stroke-width="0.7" />
<line x1="19.5" y1="132.5" x2="21.5" y2="132.5" stroke="#8a8a8a" stroke-width="0.7" />
<line x1="174.5" y1="132.5" x2="174.5" y2="162.4" stroke="#8a8a8a" stroke-width="0.7" />
<line x1="174.5" y1="132.5" x2="176.5" y2="132.5" stroke="#8a8a8a" stroke-width="0.7" />
<path d="M38.00 102.95h1.00v1.5h-1.00ZM39.00 102.95h1.00v1.5h-1.00ZM48.00 102.95h1.00v1.5h-1.00ZM49.00 102.95h1.00v1.5h-1.00ZM50.00 102.95h1.00v1.5h-1.00ZM53.00 102.95h1.00v1.5h-1.00ZM54.00 102.95h1.00v1.5h-1.00ZM55.00 102.95h1.00v1.5h-1.00ZM57.00 102.95h1.00v1.5h-1.00ZM58.00 102.95h1.00v1.5h-1.00ZM59.00 102.95h1.00v1.5h-1.00ZM61.00 102.95h1.00v1.5h-1.00ZM62.00 102.95h1.00v1.5h-1.00ZM63.00 102.95h1.00v1.5h-1.00ZM65.00 102.95h1.00v1.5h-1.00ZM68.00 102.95h1.00v1.5h-1.00ZM72.00 102.95h1.00v1.5h-1.00ZM77.00 102.95h1.00v1.5h-1.00ZM81.00 102.95h1.00v1.5h-1.00ZM82.00 102.95h1.00v1.5h-1.00ZM83.00 102.95h1.00v1.5h-1.00ZM85.00 102.95h1.00v1.5h-1.00ZM86.00 102.95h1.00v1.5h-1.00ZM87.00 102.95h1.00v1.5h-1.00ZM89.00 102.95h1.00v1.5h-1.00ZM90.00 102.95h1.00v1.5h-1.00ZM92.00 102.95h1.00v1.5h-1.00ZM94.00 102.95h1.00v1.5h-1.00ZM97.00 102.95h1.00v1.5h-1.00ZM98.00 102.95h1.00v1.5h-1.00ZM100.00 102.95h1.00v1.5h-1.00ZM102.00 102.95h1.00v1.5h-1.00ZM115.00 102.95h1.00v1.5h-1.00ZM116.00 102.95h1.00v1.5h-1.00ZM117.00 102.95h1.00v1.5h-1.00ZM119.00 102.95h1.00v1.5h-1.00ZM123.00 102.95h1.00v1.5h-1.00ZM124.00 102.95h1.00v1.5h-1.00ZM127.00 102.95h1.00v1.5h-1.00ZM128.00 102.95h1.00v1.5h-1.00ZM129.00 102.95h1.00v1.5h-1.00ZM130.00 102.95h1.00v1.5h-1.00Z" fill="#1c1c1c"/>
<path d="M37.00 105.35h1.00v1.5h-1.00ZM38.00 105.35h1.00v1.5h-1.00ZM43.00 105.35h1.00v1.5h-1.00ZM44.00 105.35h1.00v1.5h-1.00ZM45.00 105.35h1.00v1.5h-1.00ZM46.00 105.35h1.00v1.5h-1.00ZM50.00 105.35h1.00v1.5h-1.00ZM56.00 105.35h1.00v1.5h-1.00ZM61.00 105.35h1.00v1.5h-1.00ZM62.00 105.35h1.00v1.5h-1.00ZM63.00 105.35h1.00v1.5h-1.00ZM68.00 105.35h1.00v1.5h-1.00ZM69.00 105.35h1.00v1.5h-1.00ZM70.00 105.35h1.00v1.5h-1.00ZM74.00 105.35h1.00v1.5h-1.00ZM75.00 105.35h1.00v1.5h-1.00ZM77.00 105.35h1.00v1.5h-1.00ZM82.00 105.35h1.00v1.5h-1.00ZM85.00 105.35h1.00v1.5h-1.00ZM88.00 105.35h1.00v1.5h-1.00ZM93.00 105.35h1.00v1.5h-1.00ZM94.00 105.35h1.00v1.5h-1.00ZM96.00 105.35h1.00v1.5h-1.00ZM97.00 105.35h1.00v1.5h-1.00ZM107.00 105.35h1.00v1.5h-1.00ZM115.00 105.35h1.00v1.5h-1.00ZM116.00 105.35h1.00v1.5h-1.00ZM118.00 105.35h1.00v1.5h-1.00ZM119.00 105.35h1.00v1.5h-1.00ZM120.00 105.35h1.00v1.5h-1.00ZM121.00 105.35h1.00v1.5h-1.00ZM124.00 105.35h1.00v1.5h-1.00ZM125.00 105.35h1.00v1.5h-1.00Z" fill="#1c1c1c"/>
<path d="M38.00 107.75h1.00v1.5h-1.00ZM43.00 107.75h1.00v1.5h-1.00ZM49.00 107.75h1.00v1.5h-1.00ZM55.00 107.75h1.00v1.5h-1.00ZM58.00 107.75h1.00v1.5h-1.00ZM60.00 107.75h1.00v1.5h-1.00ZM66.00 107.75h1.00v1.5h-1.00ZM76.00 107.75h1.00v1.5h-1.00ZM78.00 107.75h1.00v1.5h-1.00ZM80.00 107.75h1.00v1.5h-1.00ZM88.00 107.75h1.00v1.5h-1.00ZM89.00 107.75h1.00v1.5h-1.00ZM90.00 107.75h1.00v1.5h-1.00ZM91.00 107.75h1.00v1.5h-1.00ZM97.00 107.75h1.00v1.5h-1.00ZM100.00 107.75h1.00v1.5h-1.00ZM101.00 107.75h1.00v1.5h-1.00ZM104.00 107.75h1.00v1.5h-1.00ZM106.00 107.75h1.00v1.5h-1.00ZM107.00 107.75h1.00v1.5h-1.00ZM111.00 107.75h1.00v1.5h-1.00ZM114.00 107.75h1.00v1.5h-1.00ZM118.00 107.75h1.00v1.5h-1.00ZM119.00 107.75h1.00v1.5h-1.00ZM120.00 107.75h1.00v1.5h-1.00ZM124.00 107.75h1.00v1.5h-1.00ZM125.00 107.75h1.00v1.5h-1.00ZM128.00 107.75h1.00v1.5h-1.00Z" fill="#1c1c1c"/>
<path d="M34.00 110.15h1.00v1.5h-1.00ZM37.00 110.15h1.00v1.5h-1.00ZM41.00 110.15h1.00v1.5h-1.00ZM64.00 110.15h1.00v1.5h-1.00ZM67.00 110.15h1.00v1.5h-1.00ZM68.00 110.15h1.00v1.5h-1.00ZM70.00 110.15h1.00v1.5h-1.00ZM71.00 110.15h1.00v1.5h-1.00ZM72.00 110.15h1.00v1.5h-1.00ZM73.00 110.15h1.00v1.5h-1.00ZM76.00 110.15h1.00v1.5h-1.00ZM78.00 110.15h1.00v1.5h-1.00ZM82.00 110.15h1.00v1.5h-1.00ZM83.00 110.15h1.00v1.5h-1.00ZM84.00 110.15h1.00v1.5h-1.00ZM86.00 110.15h1.00v1.5h-1.00ZM93.00 110.15h1.00v1.5h-1.00ZM94.00 110.15h1.00v1.5h-1.00ZM96.00 110.15h1.00v1.5h-1.00ZM97.00 110.15h1.00v1.5h-1.00ZM100.00 110.15h1.00v1.5h-1.00ZM101.00 110.15h1.00v1.5h-1.00ZM102.00 110.15h1.00v1.5h-1.00ZM104.00 110.15h1.00v1.5h-1.00ZM108.00 110.15h1.00v1.5h-1.00ZM109.00 110.15h1.00v1.5h-1.00ZM110.00 110.15h1.00v1.5h-1.00ZM114.00 110.15h1.00v1.5h-1.00ZM117.00 110.15h1.00v1.5h-1.00ZM119.00 110.15h1.00v1.5h-1.00ZM120.00 110.15h1.00v1.5h-1.00ZM123.00 110.15h1.00v1.5h-1.00ZM126.00 110.15h1.00v1.5h-1.00ZM127.00 110.15h1.00v1.5h-1.00ZM129.00 110.15h1.00v1.5h-1.00Z" fill="#1c1c1c"/>
<path d="M37.00 112.85h1.00v1.5h-1.00ZM38.00 112.85h1.00v1.5h-1.00ZM40.00 112.85h1.00v1.5h-1.00ZM49.00 112.85h1.00v1.5h-1.00ZM50.00 112.85h1.00v1.5h-1.00ZM52.00 112.85h1.00v1.5h-1.00ZM54.00 112.85h1.00v1.5h-1.00ZM55.00 112.85h1.00v1.5h-1.00ZM56.00 112.85h1.00v1.5h-1.00ZM60.00 112.85h1.00v1.5h-1.00ZM64.00 112.85h1.00v1.5h-1.00ZM66.00 112.85h1.00v1.5h-1.00ZM70.00 112.85h1.00v1.5h-1.00ZM73.00 112.85h1.00v1.5h-1.00ZM77.00 112.85h1.00v1.5h-1.00ZM83.00 112.85h1.00v1.5h-1.00ZM84.00 112.85h1.00v1.5h-1.00ZM86.00 112.85h1.00v1.5h-1.00ZM87.00 112.85h1.00v1.5h-1.00ZM88.00 112.85h1.00v1.5h-1.00ZM89.00 112.85h1.00v1.5h-1.00ZM90.00 112.85h1.00v1.5h-1.00ZM93.00 112.85h1.00v1.5h-1.00ZM94.00 112.85h1.00v1.5h-1.00ZM96.00 112.85h1.00v1.5h-1.00ZM97.00 112.85h1.00v1.5h-1.00ZM98.00 112.85h1.00v1.5h-1.00ZM100.00 112.85h1.00v1.5h-1.00ZM104.00 112.85h1.00v1.5h-1.00ZM107.00 112.85h1.00v1.5h-1.00ZM110.00 112.85h1.00v1.5h-1.00ZM114.00 112.85h1.00v1.5h-1.00ZM116.00 112.85h1.00v1.5h-1.00ZM117.00 112.85h1.00v1.5h-1.00ZM118.00 112.85h1.00v1.5h-1.00ZM119.00 112.85h1.00v1.5h-1.00ZM121.00 112.85h1.00v1.5h-1.00ZM122.00 112.85h1.00v1.5h-1.00ZM125.00 112.85h1.00v1.5h-1.00ZM128.00 112.85h1.00v1.5h-1.00ZM130.00 112.85h1.00v1.5h-1.00Z" fill="#1c1c1c"/>
<path d="M34.00 115.15h1.00v1.5h-1.00ZM56.00 115.15h1.00v1.5h-1.00ZM57.00 115.15h1.00v1.5h-1.00ZM58.00 115.15h1.00v1.5h-1.00ZM67.00 115.15h1.00v1.5h-1.00ZM70.00 115.15h1.00v1.5h-1.00ZM71.00 115.15h1.00v1.5h-1.00ZM72.00 115.15h1.00v1.5h-1.00ZM80.00 115.15h1.00v1.5h-1.00ZM81.00 115.15h1.00v1.5h-1.00ZM82.00 115.15h1.00v1.5h-1.00ZM85.00 115.15h1.00v1.5h-1.00ZM86.00 115.15h1.00v1.5h-1.00ZM87.00 115.15h1.00v1.5h-1.00ZM88.00 115.15h1.00v1.5h-1.00ZM89.00 115.15h1.00v1.5h-1.00ZM90.00 115.15h1.00v1.5h-1.00ZM92.00 115.15h1.00v1.5h-1.00ZM96.00 115.15h1.00v1.5h-1.00ZM97.00 115.15h1.00v1.5h-1.00ZM100.00 115.15h1.00v1.5h-1.00ZM110.00 115.15h1.00v1.5h-1.00ZM112.00 115.15h1.00v1.5h-1.00ZM113.00 115.15h1.00v1.5h-1.00ZM115.00 115.15h1.00v1.5h-1.00ZM116.00 115.15h1.00v1.5h-1.00ZM117.00 115.15h1.00v1.5h-1.00ZM118.00 115.15h1.00v1.5h-1.00ZM122.00 115.15h1.00v1.5h-1.00ZM126.00 115.15h1.00v1.5h-1.00ZM128.00 115.15h1.00v1.5h-1.00Z" fill="#1c1c1c"/>
<path d="M37.00 117.65h1.00v1.5h-1.00ZM38.00 117.65h1.00v1.5h-1.00ZM39.00 117.65h1.00v1.5h-1.00ZM40.00 117.65h1.00v1.5h-1.00ZM44.00 117.65h1.00v1.5h-1.00ZM45.00 117.65h1.00v1.5h-1.00ZM62.00 117.65h1.00v1.5h-1.00ZM63.00 117.65h1.00v1.5h-1.00ZM64.00 117.65h1.00v1.5h-1.00ZM67.00 117.65h1.00v1.5h-1.00ZM68.00 117.65h1.00v1.5h-1.00ZM72.00 117.65h1.00v1.5h-1.00ZM77.00 117.65h1.00v1.5h-1.00ZM83.00 117.65h1.00v1.5h-1.00ZM86.00 117.65h1.00v1.5h-1.00ZM89.00 117.65h1.00v1.5h-1.00ZM104.00 117.65h1.00v1.5h-1.00ZM107.00 117.65h1.00v1.5h-1.00ZM109.00 117.65h1.00v1.5h-1.00ZM110.00 117.65h1.00v1.5h-1.00ZM111.00 117.65h1.00v1.5h-1.00ZM112.00 117.65h1.00v1.5h-1.00ZM125.00 117.65h1.00v1.5h-1.00ZM126.00 117.65h1.00v1.5h-1.00ZM128.00 117.65h1.00v1.5h-1.00Z" fill="#1c1c1c"/>
<path d="M31.00 120.25h1.00v1.5h-1.00ZM37.00 120.25h1.00v1.5h-1.00ZM39.00 120.25h1.00v1.5h-1.00ZM40.00 120.25h1.00v1.5h-1.00ZM44.00 120.25h1.00v1.5h-1.00ZM45.00 120.25h1.00v1.5h-1.00ZM46.00 120.25h1.00v1.5h-1.00ZM47.00 120.25h1.00v1.5h-1.00ZM50.00 120.25h1.00v1.5h-1.00ZM51.00 120.25h1.00v1.5h-1.00ZM52.00 120.25h1.00v1.5h-1.00ZM55.00 120.25h1.00v1.5h-1.00ZM56.00 120.25h1.00v1.5h-1.00ZM57.00 120.25h1.00v1.5h-1.00ZM64.00 120.25h1.00v1.5h-1.00ZM68.00 120.25h1.00v1.5h-1.00ZM72.00 120.25h1.00v1.5h-1.00ZM82.00 120.25h1.00v1.5h-1.00ZM86.00 120.25h1.00v1.5h-1.00ZM101.00 120.25h1.00v1.5h-1.00ZM102.00 120.25h1.00v1.5h-1.00ZM103.00 120.25h1.00v1.5h-1.00ZM106.00 120.25h1.00v1.5h-1.00ZM111.00 120.25h1.00v1.5h-1.00ZM114.00 120.25h1.00v1.5h-1.00ZM119.00 120.25h1.00v1.5h-1.00ZM123.00 120.25h1.00v1.5h-1.00ZM124.00 120.25h1.00v1.5h-1.00ZM125.00 120.25h1.00v1.5h-1.00ZM128.00 120.25h1.00v1.5h-1.00ZM130.00 120.25h1.00v1.5h-1.00ZM131.00 120.25h1.00v1.5h-1.00ZM132.00 120.25h1.00v1.5h-1.00Z" fill="#1c1c1c"/>
<path d="M70.00 122.85h1.00v1.5h-1.00ZM71.00 122.85h1.00v1.5h-1.00ZM73.00 122.85h1.00v1.5h-1.00ZM75.00 122.85h1.00v1.5h-1.00ZM78.00 122.85h1.00v1.5h-1.00ZM79.00 122.85h1.00v1.5h-1.00ZM81.00 122.85h1.00v1.5h-1.00ZM82.00 122.85h1.00v1.5h-1.00ZM84.00 122.85h1.00v1.5h-1.00ZM93.00 122.85h1.00v1.5h-1.00ZM94.00 122.85h1.00v1.5h-1.00ZM95.00 122.85h1.00v1.5h-1.00ZM101.00 122.85h1.00v1.5h-1.00ZM103.00 122.85h1.00v1.5h-1.00ZM104.00 122.85h1.00v1.5h-1.00ZM108.00 122.85h1.00v1.5h-1.00ZM112.00 122.85h1.00v1.5h-1.00ZM114.00 122.85h1.00v1.5h-1.00ZM120.00 122.85h1.00v1.5h-1.00ZM121.00 122.85h1.00v1.5h-1.00ZM123.00 122.85h1.00v1.5h-1.00ZM124.00 122.85h1.00v1.5h-1.00ZM126.00 122.85h1.00v1.5h-1.00ZM127.00 122.85h1.00v1.5h-1.00ZM128.00 122.85h1.00v1.5h-1.00Z" fill="#1c1c1c"/>
<path d="M38.00 125.35h1.00v1.5h-1.00ZM48.00 125.35h1.00v1.5h-1.00ZM68.00 125.35h1.00v1.5h-1.00ZM69.00 125.35h1.00v1.5h-1.00ZM70.00 125.35h1.00v1.5h-1.00ZM71.00 125.35h1.00v1.5h-1.00ZM72.00 125.35h1.00v1.5h-1.00ZM76.00 125.35h1.00v1.5h-1.00ZM79.00 125.35h1.00v1.5h-1.00ZM80.00 125.35h1.00v1.5h-1.00ZM81.00 125.35h1.00v1.5h-1.00ZM82.00 125.35h1.00v1.5h-1.00ZM86.00 125.35h1.00v1.5h-1.00ZM94.00 125.35h1.00v1.5h-1.00ZM100.00 125.35h1.00v1.5h-1.00ZM103.00 125.35h1.00v1.5h-1.00ZM106.00 125.35h1.00v1.5h-1.00ZM124.00 125.35h1.00v1.5h-1.00ZM128.00 125.35h1.00v1.5h-1.00ZM129.00 125.35h1.00v1.5h-1.00ZM130.00 125.35h1.00v1.5h-1.00Z" fill="#1c1c1c"/>
<path d="M160.00 110.15h1.00v1.5h-1.00ZM163.00 110.15h1.00v1.5h-1.00Z" fill="#1c1c1c"/>
<path d="M163.00 107.55h1.00v1.5h-1.00Z" fill="#1c1c1c"/>
<path d="M178.00 111.05h1.00v1.5h-1.00ZM189.00 111.05h1.00v1.5h-1.00ZM200.00 111.05h1.00v1.5h-1.00ZM201.00 111.05h1.00v1.5h-1.00ZM243.00 111.05h1.00v1.5h-1.00ZM277.00 111.05h1.00v1.5h-1.00ZM281.00 111.05h1.00v1.5h-1.00ZM286.00 111.05h1.00v1.5h-1.00Z" fill="#1c1c1c"/>
<path d="M178.00 116.05h1.00v1.5h-1.00Z" fill="#1c1c1c"/>
<path d="M190.00 108.55h1.00v1.5h-1.00ZM281.00 108.55h1.00v1.5h-1.00ZM282.00 108.55h1.00v1.5h-1.00ZM288.00 108.55h1.00v1.5h-1.00ZM290.00 108.55h1.00v1.5h-1.00Z" fill="#1c1c1c"/>
<path d="M188.00 118.75h1.00v1.5h-1.00ZM195.00 118.75h1.00v1.5h-1.00ZM223.00 118.75h1.00v1.5h-1.00ZM237.00 118.75h1.00v1.5h-1.00ZM243.00 118.75h1.00v1.5h-1.00ZM244.00 118.75h1.00v1.5h-1.00ZM245.00 118.75h1.00v1.5h-1.00ZM246.00 118.75h1.00v1.5h-1.00ZM247.00 118.75h1.00v1.5h-1.00ZM248.00 118.75h1.00v1.5h-1.00Z" fill="#1c1c1c"/>
<path d="M194.00 113.45h1.00v1.5h-1.00Z" fill="#1c1c1c"/>
<path d="M202.00 105.85h1.00v1.5h-1.00Z" fill="#1c1c1c"/>
<path d="M201.00 126.15h1.00v1.5h-1.00ZM279.00 126.15h1.00v1.5h-1.00ZM280.00 126.15h1.00v1.5h-1.00ZM281.00 126.15h1.00v1.5h-1.00ZM282.00 126.15h1.00v1.5h-1.00ZM290.00 126.15h1.00v1.5h-1.00Z" fill="#1c1c1c"/>
<path d="M212.00 113.65h1.00v1.5h-1.00ZM248.00 113.65h1.00v1.5h-1.00ZM284.00 113.65h1.00v1.5h-1.00ZM286.00 113.65h1.00v1.5h-1.00ZM291.00 113.65h1.00v1.5h-1.00ZM295.00 113.65h1.00v1.5h-1.00ZM317.00 113.65h1.00v1.5h-1.00ZM318.00 113.65h1.00v1.5h-1.00Z" fill="#1c1c1c"/>
<path d="M222.00 121.15h1.00v1.5h-1.00ZM228.00 121.15h1.00v1.5h-1.00ZM233.00 121.15h1.00v1.5h-1.00ZM244.00 121.15h1.00v1.5h-1.00ZM292.00 121.15h1.00v1.5h-1.00ZM301.00 121.15h1.00v1.5h-1.00Z" fill="#1c1c1c"/>
<path d="M231.00 116.35h1.00v1.5h-1.00ZM232.00 116.35h1.00v1.5h-1.00ZM234.00 116.35h1.00v1.5h-1.00ZM235.00 116.35h1.00v1.5h-1.00ZM246.00 116.35h1.00v1.5h-1.00ZM254.00 116.35h1.00v1.5h-1.00ZM272.00 116.35h1.00v1.5h-1.00ZM273.00 116.35h1.00v1.5h-1.00ZM274.00 116.35h1.00v1.5h-1.00ZM275.00 116.35h1.00v1.5h-1.00ZM279.00 116.35h1.00v1.5h-1.00ZM280.00 116.35h1.00v1.5h-1.00ZM281.00 116.35h1.00v1.5h-1.00ZM282.00 116.35h1.00v1.5h-1.00ZM284.00 116.35h1.00v1.5h-1.00ZM286.00 116.35h1.00v1.5h-1.00ZM289.00 116.35h1.00v1.5h-1.00ZM290.00 116.35h1.00v1.5h-1.00ZM291.00 116.35h1.00v1.5h-1.00ZM317.00 116.35h1.00v1.5h-1.00Z" fill="#1c1c1c"/>
<path d="M247.00 106.15h1.00v1.5h-1.00ZM268.00 106.15h1.00v1.5h-1.00ZM274.00 106.15h1.00v1.5h-1.00ZM275.00 106.15h1.00v1.5h-1.00ZM276.00 106.15h1.00v1.5h-1.00ZM277.00 106.15h1.00v1.5h-1.00ZM286.00 106.15h1.00v1.5h-1.00ZM287.00 106.15h1.00v1.5h-1.00ZM288.00 106.15h1.00v1.5h-1.00ZM289.00 106.15h1.00v1.5h-1.00ZM290.00 106.15h1.00v1.5h-1.00Z" fill="#1c1c1c"/>
<path d="M273.00 123.45h1.00v1.5h-1.00ZM274.00 123.45h1.00v1.5h-1.00ZM275.00 123.45h1.00v1.5h-1.00ZM277.00 123.45h1.00v1.5h-1.00ZM292.00 123.45h1.00v1.5h-1.00Z" fill="#1c1c1c"/>
<path d="M31.20 162.40V160.10H33.80V162.40ZM33.80 162.40V159.00H37.10V162.40ZM37.10 162.40V150.80H40.00V162.40ZM40.00 162.40V158.40H44.10V162.40ZM44.10 162.40V156.90H47.30V162.40ZM47.30 162.40V158.70H48.90V162.40ZM48.90 162.40V155.80H53.20V162.40ZM53.20 162.40V157.00H55.90V162.40ZM55.90 162.40V153.30H59.20V162.40ZM59.20 162.40V154.70H60.80V162.40ZM60.80 162.40V158.00H63.50V162.40ZM63.50 162.40V155.80H69.90V162.40ZM69.90 162.40V152.20H73.70V162.40ZM73.70 162.40V153.80H75.80V162.40ZM75.80 162.40V156.50H78.50V162.40ZM78.50 162.40V154.40H82.30V162.40ZM82.30 162.40V153.20H84.30V162.40ZM84.30 162.40V152.20H88.60V162.40ZM88.60 162.40V156.20H92.90V162.40ZM92.90 162.40V153.80H95.60V162.40ZM95.60 162.40V156.90H97.20V162.40ZM97.20 162.40V152.20H99.40V162.40ZM99.40 162.40V150.80H102.10V162.40ZM102.10 162.40V153.60H105.80V162.40ZM105.80 162.40V154.40H108.90V162.40ZM108.90 162.40V149.50H115.00V162.40ZM115.00 162.40V152.20H116.60V162.40ZM116.60 162.40V149.50H119.30V162.40ZM119.30 162.40V153.00H122.50V162.40ZM122.50 162.40V150.80H125.20V162.40ZM125.20 162.40V146.10H127.40V162.40ZM127.40 162.40V135.30H129.80V162.40ZM129.80 162.40V149.00H131.50V162.40ZM131.50 162.40V156.00H133.00V162.40ZM133.00 162.40V160.30H133.80V162.40ZM135.50 162.40V160.30H138.20V162.40ZM160.50 162.40V160.30H165.80V162.40ZM176.00 162.40V160.10H181.00V162.40ZM188.50 162.40V159.40H196.50V162.40ZM199.20 162.40V158.80H201.00V162.40ZM201.00 162.40V157.30H203.50V162.40ZM203.50 162.40V159.00H204.60V162.40ZM210.90 162.40V160.30H213.60V162.40ZM221.20 162.40V160.30H225.50V162.40ZM228.70 162.40V159.50H236.20V162.40ZM237.30 162.40V160.30H240.50V162.40ZM243.20 162.40V158.50H246.00V162.40ZM246.00 162.40V157.30H249.70V162.40ZM254.00 162.40V160.30H256.20V162.40ZM267.50 162.40V159.70H275.00V162.40ZM275.00 162.40V159.20H283.00V162.40ZM283.00 162.40V159.80H289.80V162.40ZM289.80 162.40V154.90H292.00V162.40ZM292.00 162.40V159.00H296.20V162.40ZM301.00 162.40V160.30H304.30V162.40ZM316.20 162.40V160.00H318.00V162.40ZM318.00 162.40V158.80H320.00V162.40Z" fill="#000"/>
<line x1="19.5" y1="239.8" x2="320.5" y2="239.8" stroke="#cfcfcf" stroke-width="0.9" />
<line x1="34.2" y1="181.5" x2="34.2" y2="239.3" stroke="#c4c4c4" stroke-width="1.0" />
<line x1="48.4" y1="181.5" x2="48.4" y2="239.3" stroke="#5a5a5a" stroke-width="0.75" />
<line x1="122.5" y1="181.5" x2="122.5" y2="239.3" stroke="#9a9a9a" stroke-width="1.0" />
<line x1="188.5" y1="181.2" x2="188.5" y2="239.3" stroke="#5a5a5a" stroke-width="0.75" />
<line x1="203.3" y1="181.2" x2="203.3" y2="239.3" stroke="#777" stroke-width="1.0" />
<line x1="277.2" y1="181.2" x2="277.2" y2="239.3" stroke="#c4c4c4" stroke-width="1.0" />
<line x1="19.5" y1="210.0" x2="19.5" y2="239.3" stroke="#8a8a8a" stroke-width="0.7" />
<line x1="19.5" y1="210.0" x2="21.5" y2="210.0" stroke="#8a8a8a" stroke-width="0.7" />
<line x1="174.5" y1="210.0" x2="174.5" y2="239.3" stroke="#8a8a8a" stroke-width="0.7" />
<line x1="174.5" y1="210.0" x2="176.5" y2="210.0" stroke="#8a8a8a" stroke-width="0.7" />
<path d="M86.00 179.75h1.00v1.5h-1.00ZM99.00 179.75h1.00v1.5h-1.00ZM106.00 179.75h1.00v1.5h-1.00ZM110.00 179.75h1.00v1.5h-1.00ZM111.00 179.75h1.00v1.5h-1.00ZM113.00 179.75h1.00v1.5h-1.00ZM117.00 179.75h1.00v1.5h-1.00ZM119.00 179.75h1.00v1.5h-1.00ZM123.00 179.75h1.00v1.5h-1.00ZM124.00 179.75h1.00v1.5h-1.00ZM125.00 179.75h1.00v1.5h-1.00ZM126.00 179.75h1.00v1.5h-1.00ZM127.00 179.75h1.00v1.5h-1.00Z" fill="#1c1c1c"/>
<path d="M37.00 182.35h1.00v1.5h-1.00ZM38.00 182.35h1.00v1.5h-1.00ZM39.00 182.35h1.00v1.5h-1.00ZM40.00 182.35h1.00v1.5h-1.00ZM42.00 182.35h1.00v1.5h-1.00ZM47.00 182.35h1.00v1.5h-1.00ZM50.00 182.35h1.00v1.5h-1.00ZM55.00 182.35h1.00v1.5h-1.00ZM60.00 182.35h1.00v1.5h-1.00ZM61.00 182.35h1.00v1.5h-1.00ZM62.00 182.35h1.00v1.5h-1.00ZM69.00 182.35h1.00v1.5h-1.00ZM80.00 182.35h1.00v1.5h-1.00ZM96.00 182.35h1.00v1.5h-1.00ZM97.00 182.35h1.00v1.5h-1.00ZM100.00 182.35h1.00v1.5h-1.00ZM101.00 182.35h1.00v1.5h-1.00ZM103.00 182.35h1.00v1.5h-1.00ZM107.00 182.35h1.00v1.5h-1.00ZM111.00 182.35h1.00v1.5h-1.00ZM114.00 182.35h1.00v1.5h-1.00ZM117.00 182.35h1.00v1.5h-1.00ZM118.00 182.35h1.00v1.5h-1.00ZM119.00 182.35h1.00v1.5h-1.00ZM120.00 182.35h1.00v1.5h-1.00ZM122.00 182.35h1.00v1.5h-1.00ZM125.00 182.35h1.00v1.5h-1.00ZM128.00 182.35h1.00v1.5h-1.00ZM129.00 182.35h1.00v1.5h-1.00ZM131.00 182.35h1.00v1.5h-1.00Z" fill="#1c1c1c"/>
<path d="M27.00 184.75h1.00v1.5h-1.00ZM50.00 184.75h1.00v1.5h-1.00ZM64.00 184.75h1.00v1.5h-1.00ZM65.00 184.75h1.00v1.5h-1.00ZM66.00 184.75h1.00v1.5h-1.00ZM75.00 184.75h1.00v1.5h-1.00ZM85.00 184.75h1.00v1.5h-1.00ZM94.00 184.75h1.00v1.5h-1.00ZM95.00 184.75h1.00v1.5h-1.00ZM96.00 184.75h1.00v1.5h-1.00ZM99.00 184.75h1.00v1.5h-1.00ZM103.00 184.75h1.00v1.5h-1.00ZM108.00 184.75h1.00v1.5h-1.00ZM113.00 184.75h1.00v1.5h-1.00ZM114.00 184.75h1.00v1.5h-1.00ZM119.00 184.75h1.00v1.5h-1.00ZM120.00 184.75h1.00v1.5h-1.00ZM121.00 184.75h1.00v1.5h-1.00ZM123.00 184.75h1.00v1.5h-1.00ZM127.00 184.75h1.00v1.5h-1.00Z" fill="#1c1c1c"/>
<path d="M25.00 187.45h1.00v1.5h-1.00ZM39.00 187.45h1.00v1.5h-1.00ZM123.00 187.45h1.00v1.5h-1.00ZM127.00 187.45h1.00v1.5h-1.00Z" fill="#1c1c1c"/>
<path d="M39.00 189.95h1.00v1.5h-1.00ZM50.00 189.95h1.00v1.5h-1.00ZM61.00 189.95h1.00v1.5h-1.00ZM72.00 189.95h1.00v1.5h-1.00ZM73.00 189.95h1.00v1.5h-1.00ZM74.00 189.95h1.00v1.5h-1.00ZM75.00 189.95h1.00v1.5h-1.00ZM78.00 189.95h1.00v1.5h-1.00ZM84.00 189.95h1.00v1.5h-1.00ZM88.00 189.95h1.00v1.5h-1.00ZM122.00 189.95h1.00v1.5h-1.00ZM123.00 189.95h1.00v1.5h-1.00ZM126.00 189.95h1.00v1.5h-1.00Z" fill="#1c1c1c"/>
<path d="M64.00 192.55h1.00v1.5h-1.00ZM74.00 192.55h1.00v1.5h-1.00ZM84.00 192.55h1.00v1.5h-1.00ZM116.00 192.55h1.00v1.5h-1.00ZM124.00 192.55h1.00v1.5h-1.00ZM127.00 192.55h1.00v1.5h-1.00Z" fill="#1c1c1c"/>
<path d="M48.00 195.05h1.00v1.5h-1.00ZM129.00 195.05h1.00v1.5h-1.00Z" fill="#1c1c1c"/>
<path d="M38.00 197.45h1.00v1.5h-1.00ZM131.00 197.45h1.00v1.5h-1.00Z" fill="#1c1c1c"/>
<path d="M70.00 200.05h1.00v1.5h-1.00ZM100.00 200.05h1.00v1.5h-1.00ZM129.00 200.05h1.00v1.5h-1.00Z" fill="#1c1c1c"/>
<path d="M53.00 202.75h1.00v1.5h-1.00ZM95.00 202.75h1.00v1.5h-1.00ZM136.00 202.75h1.00v1.5h-1.00ZM144.00 202.75h1.00v1.5h-1.00Z" fill="#1c1c1c"/>
<path d="M178.00 188.85h1.00v1.5h-1.00ZM236.00 188.85h1.00v1.5h-1.00ZM279.00 188.85h1.00v1.5h-1.00Z" fill="#1c1c1c"/>
<path d="M184.00 199.15h1.00v1.5h-1.00ZM217.00 199.15h1.00v1.5h-1.00Z" fill="#1c1c1c"/>
<path d="M186.00 206.55h1.00v1.5h-1.00Z" fill="#1c1c1c"/>
<path d="M192.00 196.65h1.00v1.5h-1.00ZM274.00 196.65h1.00v1.5h-1.00ZM277.00 196.65h1.00v1.5h-1.00Z" fill="#1c1c1c"/>
<path d="M195.00 186.75h1.00v1.5h-1.00ZM207.00 186.75h1.00v1.5h-1.00ZM257.00 186.75h1.00v1.5h-1.00ZM268.00 186.75h1.00v1.5h-1.00ZM312.00 186.75h1.00v1.5h-1.00Z" fill="#1c1c1c"/>
<path d="M202.00 184.25h1.00v1.5h-1.00ZM286.00 184.25h1.00v1.5h-1.00ZM291.00 184.25h1.00v1.5h-1.00Z" fill="#1c1c1c"/>
<path d="M234.00 191.25h1.00v1.5h-1.00Z" fill="#1c1c1c"/>
<path d="M266.00 203.95h1.00v1.5h-1.00Z" fill="#1c1c1c"/>
<path d="M293.00 193.95h1.00v1.5h-1.00Z" fill="#1c1c1c"/>
<path d="M24.70 239.30V237.70H30.60V239.30ZM36.00 239.30V236.00H38.20V239.30ZM38.20 239.30V233.90H41.40V239.30ZM41.40 239.30V237.20H44.10V239.30ZM46.20 239.30V237.20H48.90V239.30ZM48.90 239.30V235.20H51.60V239.30ZM51.60 239.30V237.20H56.50V239.30ZM59.20 239.30V237.20H61.30V239.30ZM61.30 239.30V234.10H65.10V239.30ZM65.10 239.30V236.30H67.80V239.30ZM67.80 239.30V237.70H73.20V239.30ZM73.20 239.30V235.20H76.90V239.30ZM76.90 239.30V237.70H82.80V239.30ZM84.30 239.30V237.00H90.20V239.30ZM93.50 239.30V236.30H98.80V239.30ZM98.80 239.30V235.20H101.50V239.30ZM101.50 239.30V233.90H105.30V239.30ZM105.30 239.30V235.20H110.20V239.30ZM110.20 239.30V236.60H112.80V239.30ZM112.80 239.30V232.80H116.10V239.30ZM116.10 239.30V236.30H118.80V239.30ZM118.80 239.30V234.10H122.00V239.30ZM122.00 239.30V235.20H125.20V239.30ZM125.20 239.30V232.80H126.80V239.30ZM126.80 239.30V224.20H129.30V239.30ZM129.30 239.30V231.60H130.60V239.30ZM130.60 239.30V237.70H132.80V239.30ZM136.00 239.30V238.20H139.80V239.30ZM144.10 239.30V237.60H147.00V239.30ZM177.20 239.30V237.00H180.90V239.30ZM183.10 239.30V237.00H189.00V239.30ZM190.00 239.30V237.00H193.30V239.30ZM194.90 239.30V237.00H198.20V239.30ZM200.30 239.30V237.00H203.50V239.30ZM204.60 239.30V237.00H208.90V239.30ZM216.30 239.30V237.00H219.50V239.30ZM232.50 239.30V237.00H238.40V239.30ZM256.20 239.30V237.00H258.80V239.30ZM264.20 239.30V237.00H268.70V239.30ZM273.10 239.30V237.00H280.60V239.30ZM283.30 239.30V237.00H287.10V239.30ZM289.20 239.30V237.00H294.10V239.30ZM311.30 239.30V237.00H314.50V239.30Z" fill="#000"/>
<line x1="19.5" y1="313.5" x2="320.5" y2="313.5" stroke="#cfcfcf" stroke-width="0.9" />
<line x1="33.5" y1="255.3" x2="33.5" y2="313.0" stroke="#5a5a5a" stroke-width="0.75" />
<line x1="47.8" y1="255.3" x2="47.8" y2="313.0" stroke="#c4c4c4" stroke-width="1.0" />
<line x1="121.5" y1="255.3" x2="121.5" y2="313.0" stroke="#c4c4c4" stroke-width="1.0" />
<line x1="187.9" y1="255.2" x2="187.9" y2="313.0" stroke="#c4c4c4" stroke-width="1.0" />
<line x1="202.5" y1="255.2" x2="202.5" y2="313.0" stroke="#5a5a5a" stroke-width="0.75" />
<line x1="276.4" y1="255.2" x2="276.4" y2="313.0" stroke="#5a5a5a" stroke-width="0.75" />
<line x1="19.2" y1="283.6" x2="19.2" y2="313.0" stroke="#8a8a8a" stroke-width="0.7" />
<line x1="19.2" y1="283.6" x2="21.2" y2="283.6" stroke="#8a8a8a" stroke-width="0.7" />
<line x1="173.6" y1="283.6" x2="173.6" y2="313.0" stroke="#8a8a8a" stroke-width="0.7" />
<line x1="173.6" y1="283.6" x2="175.6" y2="283.6" stroke="#8a8a8a" stroke-width="0.7" />
<path d="M35.00 257.85h1.00v1.5h-1.00ZM36.00 257.85h1.00v1.5h-1.00ZM38.00 257.85h1.00v1.5h-1.00ZM42.00 257.85h1.00v1.5h-1.00ZM45.00 257.85h1.00v1.5h-1.00ZM48.00 257.85h1.00v1.5h-1.00ZM49.00 257.85h1.00v1.5h-1.00ZM51.00 257.85h1.00v1.5h-1.00ZM52.00 257.85h1.00v1.5h-1.00ZM54.00 257.85h1.00v1.5h-1.00ZM56.00 257.85h1.00v1.5h-1.00ZM59.00 257.85h1.00v1.5h-1.00ZM61.00 257.85h1.00v1.5h-1.00ZM62.00 257.85h1.00v1.5h-1.00ZM64.00 257.85h1.00v1.5h-1.00ZM70.00 257.85h1.00v1.5h-1.00ZM73.00 257.85h1.00v1.5h-1.00ZM79.00 257.85h1.00v1.5h-1.00ZM82.00 257.85h1.00v1.5h-1.00ZM83.00 257.85h1.00v1.5h-1.00ZM86.00 257.85h1.00v1.5h-1.00ZM87.00 257.85h1.00v1.5h-1.00ZM88.00 257.85h1.00v1.5h-1.00ZM89.00 257.85h1.00v1.5h-1.00ZM91.00 257.85h1.00v1.5h-1.00ZM97.00 257.85h1.00v1.5h-1.00ZM107.00 257.85h1.00v1.5h-1.00ZM110.00 257.85h1.00v1.5h-1.00ZM114.00 257.85h1.00v1.5h-1.00ZM115.00 257.85h1.00v1.5h-1.00ZM119.00 257.85h1.00v1.5h-1.00ZM122.00 257.85h1.00v1.5h-1.00ZM124.00 257.85h1.00v1.5h-1.00ZM125.00 257.85h1.00v1.5h-1.00ZM126.00 257.85h1.00v1.5h-1.00ZM127.00 257.85h1.00v1.5h-1.00ZM131.00 257.85h1.00v1.5h-1.00Z" fill="#1c1c1c"/>
<path d="M31.00 260.25h1.00v1.5h-1.00ZM52.00 260.25h1.00v1.5h-1.00ZM62.00 260.25h1.00v1.5h-1.00ZM63.00 260.25h1.00v1.5h-1.00ZM64.00 260.25h1.00v1.5h-1.00ZM65.00 260.25h1.00v1.5h-1.00ZM66.00 260.25h1.00v1.5h-1.00ZM68.00 260.25h1.00v1.5h-1.00ZM72.00 260.25h1.00v1.5h-1.00ZM73.00 260.25h1.00v1.5h-1.00ZM75.00 260.25h1.00v1.5h-1.00ZM78.00 260.25h1.00v1.5h-1.00ZM82.00 260.25h1.00v1.5h-1.00ZM85.00 260.25h1.00v1.5h-1.00ZM88.00 260.25h1.00v1.5h-1.00ZM89.00 260.25h1.00v1.5h-1.00ZM108.00 260.25h1.00v1.5h-1.00ZM111.00 260.25h1.00v1.5h-1.00ZM112.00 260.25h1.00v1.5h-1.00ZM113.00 260.25h1.00v1.5h-1.00ZM114.00 260.25h1.00v1.5h-1.00ZM115.00 260.25h1.00v1.5h-1.00ZM116.00 260.25h1.00v1.5h-1.00ZM117.00 260.25h1.00v1.5h-1.00ZM118.00 260.25h1.00v1.5h-1.00ZM121.00 260.25h1.00v1.5h-1.00ZM122.00 260.25h1.00v1.5h-1.00ZM125.00 260.25h1.00v1.5h-1.00ZM126.00 260.25h1.00v1.5h-1.00ZM128.00 260.25h1.00v1.5h-1.00ZM129.00 260.25h1.00v1.5h-1.00ZM131.00 260.25h1.00v1.5h-1.00Z" fill="#1c1c1c"/>
<path d="M38.00 262.65h1.00v1.5h-1.00ZM42.00 262.65h1.00v1.5h-1.00ZM48.00 262.65h1.00v1.5h-1.00ZM50.00 262.65h1.00v1.5h-1.00ZM51.00 262.65h1.00v1.5h-1.00ZM53.00 262.65h1.00v1.5h-1.00ZM54.00 262.65h1.00v1.5h-1.00ZM63.00 262.65h1.00v1.5h-1.00ZM70.00 262.65h1.00v1.5h-1.00ZM73.00 262.65h1.00v1.5h-1.00ZM74.00 262.65h1.00v1.5h-1.00ZM75.00 262.65h1.00v1.5h-1.00ZM76.00 262.65h1.00v1.5h-1.00ZM82.00 262.65h1.00v1.5h-1.00ZM89.00 262.65h1.00v1.5h-1.00ZM92.00 262.65h1.00v1.5h-1.00ZM95.00 262.65h1.00v1.5h-1.00ZM98.00 262.65h1.00v1.5h-1.00ZM99.00 262.65h1.00v1.5h-1.00ZM101.00 262.65h1.00v1.5h-1.00ZM102.00 262.65h1.00v1.5h-1.00ZM107.00 262.65h1.00v1.5h-1.00ZM114.00 262.65h1.00v1.5h-1.00ZM115.00 262.65h1.00v1.5h-1.00ZM116.00 262.65h1.00v1.5h-1.00ZM117.00 262.65h1.00v1.5h-1.00ZM119.00 262.65h1.00v1.5h-1.00ZM120.00 262.65h1.00v1.5h-1.00ZM121.00 262.65h1.00v1.5h-1.00ZM122.00 262.65h1.00v1.5h-1.00ZM124.00 262.65h1.00v1.5h-1.00ZM128.00 262.65h1.00v1.5h-1.00Z" fill="#1c1c1c"/>
<path d="M37.00 265.15h1.00v1.5h-1.00ZM38.00 265.15h1.00v1.5h-1.00ZM39.00 265.15h1.00v1.5h-1.00ZM40.00 265.15h1.00v1.5h-1.00ZM41.00 265.15h1.00v1.5h-1.00ZM51.00 265.15h1.00v1.5h-1.00ZM54.00 265.15h1.00v1.5h-1.00ZM55.00 265.15h1.00v1.5h-1.00ZM57.00 265.15h1.00v1.5h-1.00ZM58.00 265.15h1.00v1.5h-1.00ZM60.00 265.15h1.00v1.5h-1.00ZM63.00 265.15h1.00v1.5h-1.00ZM68.00 265.15h1.00v1.5h-1.00ZM70.00 265.15h1.00v1.5h-1.00ZM71.00 265.15h1.00v1.5h-1.00ZM74.00 265.15h1.00v1.5h-1.00ZM75.00 265.15h1.00v1.5h-1.00ZM78.00 265.15h1.00v1.5h-1.00ZM79.00 265.15h1.00v1.5h-1.00ZM81.00 265.15h1.00v1.5h-1.00ZM86.00 265.15h1.00v1.5h-1.00ZM87.00 265.15h1.00v1.5h-1.00ZM91.00 265.15h1.00v1.5h-1.00ZM95.00 265.15h1.00v1.5h-1.00ZM98.00 265.15h1.00v1.5h-1.00ZM99.00 265.15h1.00v1.5h-1.00ZM103.00 265.15h1.00v1.5h-1.00ZM104.00 265.15h1.00v1.5h-1.00ZM105.00 265.15h1.00v1.5h-1.00ZM109.00 265.15h1.00v1.5h-1.00ZM112.00 265.15h1.00v1.5h-1.00ZM113.00 265.15h1.00v1.5h-1.00ZM114.00 265.15h1.00v1.5h-1.00ZM115.00 265.15h1.00v1.5h-1.00ZM118.00 265.15h1.00v1.5h-1.00ZM121.00 265.15h1.00v1.5h-1.00ZM122.00 265.15h1.00v1.5h-1.00ZM123.00 265.15h1.00v1.5h-1.00ZM127.00 265.15h1.00v1.5h-1.00ZM128.00 265.15h1.00v1.5h-1.00ZM139.00 265.15h1.00v1.5h-1.00Z" fill="#1c1c1c"/>
<path d="M24.00 267.75h1.00v1.5h-1.00ZM39.00 267.75h1.00v1.5h-1.00ZM40.00 267.75h1.00v1.5h-1.00ZM41.00 267.75h1.00v1.5h-1.00ZM47.00 267.75h1.00v1.5h-1.00ZM78.00 267.75h1.00v1.5h-1.00ZM79.00 267.75h1.00v1.5h-1.00ZM80.00 267.75h1.00v1.5h-1.00ZM83.00 267.75h1.00v1.5h-1.00ZM86.00 267.75h1.00v1.5h-1.00ZM88.00 267.75h1.00v1.5h-1.00ZM91.00 267.75h1.00v1.5h-1.00ZM92.00 267.75h1.00v1.5h-1.00ZM93.00 267.75h1.00v1.5h-1.00ZM100.00 267.75h1.00v1.5h-1.00ZM101.00 267.75h1.00v1.5h-1.00ZM104.00 267.75h1.00v1.5h-1.00ZM105.00 267.75h1.00v1.5h-1.00ZM108.00 267.75h1.00v1.5h-1.00ZM113.00 267.75h1.00v1.5h-1.00ZM115.00 267.75h1.00v1.5h-1.00ZM120.00 267.75h1.00v1.5h-1.00ZM121.00 267.75h1.00v1.5h-1.00ZM123.00 267.75h1.00v1.5h-1.00ZM125.00 267.75h1.00v1.5h-1.00ZM126.00 267.75h1.00v1.5h-1.00ZM127.00 267.75h1.00v1.5h-1.00ZM128.00 267.75h1.00v1.5h-1.00Z" fill="#1c1c1c"/>
<path d="M39.00 270.25h1.00v1.5h-1.00ZM42.00 270.25h1.00v1.5h-1.00ZM50.00 270.25h1.00v1.5h-1.00ZM56.00 270.25h1.00v1.5h-1.00ZM59.00 270.25h1.00v1.5h-1.00ZM62.00 270.25h1.00v1.5h-1.00ZM63.00 270.25h1.00v1.5h-1.00ZM66.00 270.25h1.00v1.5h-1.00ZM73.00 270.25h1.00v1.5h-1.00ZM81.00 270.25h1.00v1.5h-1.00ZM82.00 270.25h1.00v1.5h-1.00ZM85.00 270.25h1.00v1.5h-1.00ZM89.00 270.25h1.00v1.5h-1.00ZM117.00 270.25h1.00v1.5h-1.00ZM120.00 270.25h1.00v1.5h-1.00ZM123.00 270.25h1.00v1.5h-1.00ZM127.00 270.25h1.00v1.5h-1.00ZM128.00 270.25h1.00v1.5h-1.00ZM130.00 270.25h1.00v1.5h-1.00ZM131.00 270.25h1.00v1.5h-1.00Z" fill="#1c1c1c"/>
<path d="M30.00 272.65h1.00v1.5h-1.00ZM39.00 272.65h1.00v1.5h-1.00ZM47.00 272.65h1.00v1.5h-1.00ZM52.00 272.65h1.00v1.5h-1.00ZM53.00 272.65h1.00v1.5h-1.00ZM55.00 272.65h1.00v1.5h-1.00ZM61.00 272.65h1.00v1.5h-1.00ZM68.00 272.65h1.00v1.5h-1.00ZM71.00 272.65h1.00v1.5h-1.00ZM74.00 272.65h1.00v1.5h-1.00ZM77.00 272.65h1.00v1.5h-1.00ZM82.00 272.65h1.00v1.5h-1.00ZM88.00 272.65h1.00v1.5h-1.00ZM89.00 272.65h1.00v1.5h-1.00ZM90.00 272.65h1.00v1.5h-1.00ZM91.00 272.65h1.00v1.5h-1.00ZM92.00 272.65h1.00v1.5h-1.00ZM95.00 272.65h1.00v1.5h-1.00ZM96.00 272.65h1.00v1.5h-1.00ZM106.00 272.65h1.00v1.5h-1.00ZM108.00 272.65h1.00v1.5h-1.00ZM109.00 272.65h1.00v1.5h-1.00ZM110.00 272.65h1.00v1.5h-1.00ZM111.00 272.65h1.00v1.5h-1.00ZM114.00 272.65h1.00v1.5h-1.00ZM117.00 272.65h1.00v1.5h-1.00ZM120.00 272.65h1.00v1.5h-1.00ZM121.00 272.65h1.00v1.5h-1.00ZM122.00 272.65h1.00v1.5h-1.00ZM124.00 272.65h1.00v1.5h-1.00ZM125.00 272.65h1.00v1.5h-1.00ZM126.00 272.65h1.00v1.5h-1.00ZM127.00 272.65h1.00v1.5h-1.00ZM128.00 272.65h1.00v1.5h-1.00Z" fill="#1c1c1c"/>
<path d="M38.00 275.25h1.00v1.5h-1.00ZM40.00 275.25h1.00v1.5h-1.00ZM44.00 275.25h1.00v1.5h-1.00ZM56.00 275.25h1.00v1.5h-1.00ZM58.00 275.25h1.00v1.5h-1.00ZM72.00 275.25h1.00v1.5h-1.00ZM77.00 275.25h1.00v1.5h-1.00ZM78.00 275.25h1.00v1.5h-1.00ZM79.00 275.25h1.00v1.5h-1.00ZM82.00 275.25h1.00v1.5h-1.00ZM96.00 275.25h1.00v1.5h-1.00ZM100.00 275.25h1.00v1.5h-1.00ZM101.00 275.25h1.00v1.5h-1.00ZM102.00 275.25h1.00v1.5h-1.00ZM103.00 275.25h1.00v1.5h-1.00ZM105.00 275.25h1.00v1.5h-1.00ZM106.00 275.25h1.00v1.5h-1.00ZM112.00 275.25h1.00v1.5h-1.00ZM113.00 275.25h1.00v1.5h-1.00ZM116.00 275.25h1.00v1.5h-1.00ZM117.00 275.25h1.00v1.5h-1.00ZM120.00 275.25h1.00v1.5h-1.00ZM122.00 275.25h1.00v1.5h-1.00ZM124.00 275.25h1.00v1.5h-1.00ZM125.00 275.25h1.00v1.5h-1.00ZM126.00 275.25h1.00v1.5h-1.00Z" fill="#1c1c1c"/>
<path d="M41.00 277.85h1.00v1.5h-1.00ZM54.00 277.85h1.00v1.5h-1.00ZM55.00 277.85h1.00v1.5h-1.00ZM56.00 277.85h1.00v1.5h-1.00ZM59.00 277.85h1.00v1.5h-1.00ZM60.00 277.85h1.00v1.5h-1.00ZM62.00 277.85h1.00v1.5h-1.00ZM72.00 277.85h1.00v1.5h-1.00ZM73.00 277.85h1.00v1.5h-1.00ZM74.00 277.85h1.00v1.5h-1.00ZM75.00 277.85h1.00v1.5h-1.00ZM79.00 277.85h1.00v1.5h-1.00ZM88.00 277.85h1.00v1.5h-1.00ZM96.00 277.85h1.00v1.5h-1.00ZM100.00 277.85h1.00v1.5h-1.00ZM102.00 277.85h1.00v1.5h-1.00ZM106.00 277.85h1.00v1.5h-1.00ZM107.00 277.85h1.00v1.5h-1.00ZM108.00 277.85h1.00v1.5h-1.00ZM109.00 277.85h1.00v1.5h-1.00ZM110.00 277.85h1.00v1.5h-1.00ZM116.00 277.85h1.00v1.5h-1.00ZM119.00 277.85h1.00v1.5h-1.00ZM123.00 277.85h1.00v1.5h-1.00ZM124.00 277.85h1.00v1.5h-1.00Z" fill="#1c1c1c"/>
<path d="M38.00 280.35h1.00v1.5h-1.00ZM39.00 280.35h1.00v1.5h-1.00ZM41.00 280.35h1.00v1.5h-1.00ZM42.00 280.35h1.00v1.5h-1.00ZM43.00 280.35h1.00v1.5h-1.00ZM44.00 280.35h1.00v1.5h-1.00ZM45.00 280.35h1.00v1.5h-1.00ZM51.00 280.35h1.00v1.5h-1.00ZM54.00 280.35h1.00v1.5h-1.00ZM55.00 280.35h1.00v1.5h-1.00ZM56.00 280.35h1.00v1.5h-1.00ZM57.00 280.35h1.00v1.5h-1.00ZM58.00 280.35h1.00v1.5h-1.00ZM63.00 280.35h1.00v1.5h-1.00ZM66.00 280.35h1.00v1.5h-1.00ZM67.00 280.35h1.00v1.5h-1.00ZM70.00 280.35h1.00v1.5h-1.00ZM73.00 280.35h1.00v1.5h-1.00ZM78.00 280.35h1.00v1.5h-1.00ZM83.00 280.35h1.00v1.5h-1.00ZM84.00 280.35h1.00v1.5h-1.00ZM86.00 280.35h1.00v1.5h-1.00ZM90.00 280.35h1.00v1.5h-1.00ZM91.00 280.35h1.00v1.5h-1.00ZM94.00 280.35h1.00v1.5h-1.00ZM97.00 280.35h1.00v1.5h-1.00ZM98.00 280.35h1.00v1.5h-1.00ZM102.00 280.35h1.00v1.5h-1.00ZM103.00 280.35h1.00v1.5h-1.00ZM106.00 280.35h1.00v1.5h-1.00ZM110.00 280.35h1.00v1.5h-1.00ZM111.00 280.35h1.00v1.5h-1.00ZM112.00 280.35h1.00v1.5h-1.00ZM115.00 280.35h1.00v1.5h-1.00ZM119.00 280.35h1.00v1.5h-1.00ZM120.00 280.35h1.00v1.5h-1.00ZM122.00 280.35h1.00v1.5h-1.00ZM123.00 280.35h1.00v1.5h-1.00ZM124.00 280.35h1.00v1.5h-1.00ZM127.00 280.35h1.00v1.5h-1.00ZM128.00 280.35h1.00v1.5h-1.00Z" fill="#1c1c1c"/>
<path d="M163.00 267.75h1.00v1.5h-1.00Z" fill="#1c1c1c"/>
<path d="M164.00 272.65h1.00v1.5h-1.00Z" fill="#1c1c1c"/>
<path d="M159.00 275.25h1.00v1.5h-1.00ZM165.00 275.25h1.00v1.5h-1.00Z" fill="#1c1c1c"/>
<path d="M179.00 267.95h1.00v1.5h-1.00ZM186.00 267.95h1.00v1.5h-1.00ZM208.00 267.95h1.00v1.5h-1.00ZM214.00 267.95h1.00v1.5h-1.00ZM215.00 267.95h1.00v1.5h-1.00ZM217.00 267.95h1.00v1.5h-1.00ZM235.00 267.95h1.00v1.5h-1.00ZM244.00 267.95h1.00v1.5h-1.00ZM254.00 267.95h1.00v1.5h-1.00ZM259.00 267.95h1.00v1.5h-1.00ZM260.00 267.95h1.00v1.5h-1.00ZM261.00 267.95h1.00v1.5h-1.00ZM262.00 267.95h1.00v1.5h-1.00ZM266.00 267.95h1.00v1.5h-1.00ZM273.00 267.95h1.00v1.5h-1.00ZM278.00 267.95h1.00v1.5h-1.00ZM291.00 267.95h1.00v1.5h-1.00Z" fill="#1c1c1c"/>
<path d="M185.00 273.15h1.00v1.5h-1.00ZM191.00 273.15h1.00v1.5h-1.00ZM240.00 273.15h1.00v1.5h-1.00ZM264.00 273.15h1.00v1.5h-1.00Z" fill="#1c1c1c"/>
<path d="M194.00 253.25h1.00v1.5h-1.00ZM282.00 253.25h1.00v1.5h-1.00ZM293.00 253.25h1.00v1.5h-1.00Z" fill="#1c1c1c"/>
<path d="M196.00 255.75h1.00v1.5h-1.00ZM266.00 255.75h1.00v1.5h-1.00ZM274.00 255.75h1.00v1.5h-1.00ZM294.00 255.75h1.00v1.5h-1.00Z" fill="#1c1c1c"/>
<path d="M194.00 263.05h1.00v1.5h-1.00ZM204.00 263.05h1.00v1.5h-1.00ZM274.00 263.05h1.00v1.5h-1.00ZM294.00 263.05h1.00v1.5h-1.00Z" fill="#1c1c1c"/>
<path d="M199.00 265.75h1.00v1.5h-1.00Z" fill="#1c1c1c"/>
<path d="M218.00 258.05h1.00v1.5h-1.00ZM263.00 258.05h1.00v1.5h-1.00Z" fill="#1c1c1c"/>
<path d="M212.00 270.45h1.00v1.5h-1.00ZM227.00 270.45h1.00v1.5h-1.00Z" fill="#1c1c1c"/>
<path d="M232.00 275.85h1.00v1.5h-1.00ZM280.00 275.85h1.00v1.5h-1.00ZM281.00 275.85h1.00v1.5h-1.00ZM282.00 275.85h1.00v1.5h-1.00Z" fill="#1c1c1c"/>
<path d="M248.00 260.45h1.00v1.5h-1.00ZM280.00 260.45h1.00v1.5h-1.00ZM283.00 260.45h1.00v1.5h-1.00ZM284.00 260.45h1.00v1.5h-1.00ZM286.00 260.45h1.00v1.5h-1.00Z" fill="#1c1c1c"/>
<path d="M266.00 255.55h1.00v1.5h-1.00Z" fill="#1c1c1c"/>
<path d="M281.00 270.65h1.00v1.5h-1.00ZM286.00 270.65h1.00v1.5h-1.00ZM290.00 270.65h1.00v1.5h-1.00ZM291.00 270.65h1.00v1.5h-1.00ZM292.00 270.65h1.00v1.5h-1.00ZM293.00 270.65h1.00v1.5h-1.00ZM302.00 270.65h1.00v1.5h-1.00Z" fill="#1c1c1c"/>
<path d="M23.10 313.00V310.90H25.80V313.00ZM28.80 313.00V310.90H34.90V313.00ZM34.90 313.00V307.80H37.10V313.00ZM37.10 313.00V304.10H40.30V313.00ZM40.30 313.00V306.20H43.00V313.00ZM43.00 313.00V309.50H49.50V313.00ZM49.50 313.00V304.80H54.80V313.00ZM54.80 313.00V304.10H58.10V313.00ZM58.10 313.00V307.30H60.80V313.00ZM60.80 313.00V304.60H64.00V313.00ZM64.00 313.00V307.30H69.40V313.00ZM69.40 313.00V304.10H74.20V313.00ZM74.20 313.00V307.30H79.10V313.00ZM79.10 313.00V306.20H81.80V313.00ZM81.80 313.00V302.50H84.80V313.00ZM84.80 313.00V304.10H90.20V313.00ZM90.20 313.00V306.20H93.50V313.00ZM93.50 313.00V308.90H95.10V313.00ZM95.10 313.00V301.20H97.80V313.00ZM97.80 313.00V306.80H99.40V313.00ZM99.40 313.00V305.20H101.50V313.00ZM101.50 313.00V304.60H105.30V313.00ZM105.30 313.00V306.20H107.50V313.00ZM107.50 313.00V304.10H110.20V313.00ZM110.20 313.00V301.20H112.30V313.00ZM112.30 313.00V299.80H116.10V313.00ZM116.10 313.00V296.50H118.80V313.00ZM118.80 313.00V297.90H120.40V313.00ZM120.40 313.00V296.20H122.50V313.00ZM122.50 313.00V299.80H124.20V313.00ZM124.20 313.00V302.50H126.80V313.00ZM126.80 313.00V301.40H130.10V313.00ZM130.10 313.00V307.30H132.80V313.00ZM137.60 313.00V310.90H140.80V313.00ZM159.10 313.00V310.80H163.00V313.00ZM163.00 313.00V309.40H167.20V313.00ZM172.50 313.00V311.50H176.30V313.00ZM179.00 313.00V311.50H180.60V313.00ZM183.80 313.00V311.50H188.70V313.00ZM190.30 313.00V310.20H195.00V313.00ZM195.00 313.00V311.00H199.80V313.00ZM202.50 313.00V311.20H210.00V313.00ZM210.00 313.00V311.60H220.80V313.00ZM225.70 313.00V311.50H236.50V313.00ZM239.20 313.00V311.20H245.10V313.00ZM246.70 313.00V311.50H248.30V313.00ZM253.20 313.00V311.50H254.20V313.00ZM258.00 313.00V311.50H268.10V313.00ZM270.80 313.00V310.20H278.80V313.00ZM278.80 313.00V309.20H281.50V313.00ZM281.50 313.00V310.40H290.70V313.00ZM290.70 313.00V309.20H294.50V313.00ZM294.50 313.00V310.50H295.50V313.00ZM299.80 313.00V311.50H303.60V313.00Z" fill="#000"/>
<text transform="translate(16.4,282.8) scale(1,1.08)" font-size="7.2" fill="#333" text-anchor="end" font-weight="normal" >50</text>
<text transform="translate(15.3,298.5) rotate(-90)" font-size="7.3" fill="#333" text-anchor="middle">Spikes/s</text>
<text transform="translate(14.8,318.4) scale(1,1.08)" font-size="7.2" fill="#333" text-anchor="end" font-weight="normal" >0</text>
<text transform="translate(22.8,320.3) scale(1,1.08)" font-size="6.6" fill="#333" text-anchor="start" font-weight="normal" >Fix</text>
<text transform="translate(35.8,320.3) scale(1,1.08)" font-size="6.6" fill="#333" text-anchor="start" font-weight="normal" >Cue</text>
<text transform="translate(67.9,320.3) scale(1,1.08)" font-size="6.6" fill="#333" text-anchor="start" font-weight="normal" >Delay</text>
<text transform="translate(127.6,320.3) scale(1,1.08)" font-size="6.6" fill="#333" text-anchor="start" font-weight="normal" >Response</text>
<text transform="translate(166.8,320.2) scale(1,1.08)" font-size="7.2" fill="#333" text-anchor="start" font-weight="normal" >-1.0</text>
<text transform="translate(186.2,320.2) scale(1,1.08)" font-size="7.2" fill="#333" text-anchor="start" font-weight="normal" >-0.5</text>
<text transform="translate(201.8,320.2) scale(1,1.08)" font-size="7.2" fill="#333" text-anchor="start" font-weight="normal" >0</text>
<text transform="translate(272.6,320.2) scale(1,1.08)" font-size="7.2" fill="#333" text-anchor="start" font-weight="normal" >2.5</text>
<text transform="translate(314.6,320.2) scale(1,1.08)" font-size="7.2" fill="#333" text-anchor="start" font-weight="normal" >4.0</text>
<text transform="translate(220.0,322.8) scale(1,1.08)" font-size="6.6" fill="#333" text-anchor="start" font-weight="normal" >Times (s)</text>
<text transform="translate(334.2,13.3) scale(1,1.02)" font-size="18" fill="#222" text-anchor="start" font-weight="bold" >B</text>
<text transform="translate(355.5,78.2) rotate(-90) scale(1,1.06)" font-size="10.5" fill="#333" text-anchor="middle">Firing rate (spikes/s)</text>
<text transform="translate(366.4,37.6) scale(1,1.08)" font-size="6.6" fill="#333" text-anchor="end" font-weight="normal" >40</text>
<line x1="367.0" y1="35.1" x2="368.5" y2="35.1" stroke="#444" stroke-width="0.7" />
<text transform="translate(366.4,58.9) scale(1,1.08)" font-size="6.6" fill="#333" text-anchor="end" font-weight="normal" >30</text>
<line x1="367.0" y1="56.4" x2="368.5" y2="56.4" stroke="#444" stroke-width="0.7" />
<text transform="translate(366.4,80.3) scale(1,1.08)" font-size="6.6" fill="#333" text-anchor="end" font-weight="normal" >20</text>
<line x1="367.0" y1="77.8" x2="368.5" y2="77.8" stroke="#444" stroke-width="0.7" />
<text transform="translate(366.4,101.9) scale(1,1.08)" font-size="6.6" fill="#333" text-anchor="end" font-weight="normal" >10</text>
<line x1="367.0" y1="99.4" x2="368.5" y2="99.4" stroke="#444" stroke-width="0.7" />
<text transform="translate(366.4,123.5) scale(1,1.08)" font-size="6.6" fill="#333" text-anchor="end" font-weight="normal" >0</text>
<line x1="367.0" y1="121.0" x2="368.5" y2="121.0" stroke="#444" stroke-width="0.7" />
<line x1="368.5" y1="35.0" x2="368.5" y2="121.5" stroke="#444" stroke-width="0.9" />
<line x1="368.5" y1="121.5" x2="517.5" y2="121.5" stroke="#666" stroke-width="0.9" />
<line x1="523.6" y1="35.0" x2="523.6" y2="121.5" stroke="#444" stroke-width="0.9" />
<line x1="523.6" y1="121.5" x2="673.0" y2="121.5" stroke="#bdbdbd" stroke-width="1.2" />
<line x1="383.3" y1="36" x2="383.3" y2="121.5" stroke="#555" stroke-width="0.9" />
<line x1="398.0" y1="36" x2="398.0" y2="121.5" stroke="#b5b5b5" stroke-width="1.1" />
<line x1="472.5" y1="35.5" x2="472.5" y2="121.5" stroke="#555" stroke-width="0.9" />
<line x1="538.3" y1="35.8" x2="538.3" y2="121.5" stroke="#555" stroke-width="0.9" />
<line x1="553.1" y1="33" x2="553.1" y2="121.5" stroke="#999" stroke-width="1.1" />
<line x1="627.6" y1="36" x2="627.6" y2="121.5" stroke="#999" stroke-width="1.1" />
<text transform="translate(388.5,35.5) scale(1,1.08)" font-size="9.7" fill="#333" text-anchor="start" font-weight="normal" >Preferred Direction</text>
<text transform="translate(532.4,34.7) scale(1,1.08)" font-size="9.85" fill="#333" text-anchor="start" font-weight="normal" >Nonpreferred Direction</text>
<line x1="540.0" y1="54.2" x2="550.6" y2="54.2" stroke="#3a3aa6" stroke-width="2.5" />
<line x1="540.0" y1="67.4" x2="550.6" y2="67.4" stroke="#ee2a33" stroke-width="2.5" />
<text transform="translate(554.6,55.3) scale(1,1.08)" font-size="9.4" fill="#333" text-anchor="start" font-weight="normal" >Control</text>
<text transform="translate(554.6,71.2) scale(1,1.08)" font-size="9.4" fill="#333" text-anchor="start" font-weight="normal" >TCN237@15-25nA</text>
<text transform="translate(581.0,85.0) scale(1,1.08)" font-size="8.8" fill="#333" text-anchor="start" font-weight="normal" >N=14</text>
<text transform="translate(368.8,130.5) scale(1,1.08)" font-size="9.3" fill="#333" text-anchor="start" font-weight="normal" >Fix</text>
<text transform="translate(384.4,130.5) scale(1,1.08)" font-size="9.3" fill="#333" text-anchor="start" font-weight="normal" >Cue</text>
<text transform="translate(411.9,130.5) scale(1,1.08)" font-size="9.3" fill="#333" text-anchor="start" font-weight="normal" >Delay</text>
<text transform="translate(474.7,130.5) scale(1,1.08)" font-size="9.3" fill="#333" text-anchor="start" font-weight="normal" >Response</text>
<text transform="translate(520.8,128.8) scale(1,1.08)" font-size="7.2" fill="#333" text-anchor="start" font-weight="normal" >-1.0-0.5</text>
<text transform="translate(551.6,128.8) scale(1,1.08)" font-size="7.2" fill="#333" text-anchor="start" font-weight="normal" >0</text>
<text transform="translate(579.4,132.6) scale(1,1.08)" font-size="7.5" fill="#333" text-anchor="start" font-weight="normal" >Times (s)</text>
<text transform="translate(624.4,129.4) scale(1,1.08)" font-size="7.2" fill="#333" text-anchor="start" font-weight="normal" >2.5</text>
<text transform="translate(662.2,129.4) scale(1,1.08)" font-size="7.2" fill="#333" text-anchor="start" font-weight="normal" >4.0</text>
<path d="M368.8 103.7 L371.5 102.6 L375.2 98.8 L377.9 101.5 L381.2 105.3 L383.8 105.3 L386.5 101.5 L388.7 94.0 L390.8 88.8 L395.2 90.8 L398.4 90.2 L402.7 90.2 L405.9 92.4 L409.2 94.5 L414.5 96.2 L419.4 93.5 L423.2 95.6 L427.5 94.5 L430.0 94.4 L433.8 94.8 L437.5 90.8 L443.0 86.8 L448.3 85.0 L452.6 83.5 L458.0 78.5 L461.2 78.0 L464.5 75.0 L468.8 68.5 L472.5 62.0 L475.2 53.0 L477.2 42.0 L479.0 33.8 L481.0 43.0 L482.6 58.0 L484.2 75.0 L485.4 88.0 L487.2 96.2 L490.3 102.2 L494.6 106.2 L500.0 108.8 L503.6 110.3 L509.0 105.5 L513.8 101.2 L518.2 103.3" fill="none" stroke="#6ee0fa" stroke-width="4.2" stroke-linejoin="round" stroke-linecap="round"/>
<path d="M523.5 101.2 L530.0 104.9 L533.8 102.2 L538.1 106.5 L542.4 109.8 L546.7 110.8 L551.0 108.2 L555.3 103.8 L559.6 104.4 L565.0 105.3 L571.3 102.2 L577.2 106.0 L582.6 106.0 L586.9 107.1 L590.7 104.4 L595.5 107.1 L603.1 107.6 L608.5 106.5 L613.8 107.6 L619.2 104.2 L624.2 101.2 L627.9 102.4 L630.6 98.7 L635.5 89.3 L641.4 96.0 L645.2 97.6 L649.5 103.0 L653.8 109.5 L657.0 112.6 L660.2 110.5 L663.5 108.6 L665.6 106.5 L671.5 101.9" fill="none" stroke="#6ee0fa" stroke-width="4.2" stroke-linejoin="round" stroke-linecap="round"/>
<path d="M386.5 101.5 L388.7 94.0 L390.8 88.8 L395.2 90.8 L398.4 90.2 L402.7 90.2 L405.9 92.4 L409.2 94.5 L414.5 96.2 L419.4 93.5 L423.2 95.6 L427.5 94.5 L430.0 94.4 L433.8 94.8 L437.5 90.8 L443.0 86.8 L448.3 85.0 L452.6 83.5 L458.0 78.5 L461.2 78.0 L464.5 75.0 L468.8 68.5 L472.5 62.0 L475.2 53.0" fill="none" stroke="#6ee0fa" stroke-width="6.6" stroke-linejoin="round" stroke-linecap="round"/>
<path d="M523.5 101.2 L530.0 104.9 L533.8 102.2 L538.1 106.5 L542.4 109.8 L546.7 110.8 L551.0 108.2 L555.3 103.8 L559.6 104.4" fill="none" stroke="#6ee0fa" stroke-width="6.6" stroke-linejoin="round" stroke-linecap="round"/>
<path d="M565.0 105.3 L571.3 102.2 L577.2 106.0 L582.6 106.0 L586.9 107.1 L590.7 104.4 L595.5 107.1 L603.1 107.6 L608.5 106.5 L613.8 107.6 L619.2 104.2 L624.2 101.2 L627.9 102.4 L630.6 98.7 L635.5 89.3 L641.4 96.0 L645.2 97.6 L649.5 103.0 L653.8 109.5 L657.0 112.6 L660.2 110.5 L663.5 108.6 L665.6 106.5 L671.5 101.9" fill="none" stroke="#6ee0fa" stroke-width="6.6" stroke-linejoin="round" stroke-linecap="round"/>
<path d="M477.6 33 L479.3 27.8 L480.6 33 Z" fill="#6ee0fa" stroke="#6ee0fa" stroke-width="1.2"/>
<path d="M670.6 101 L671.8 97.5 L672.6 101 Z" fill="#6ee0fa" stroke="#6ee0fa" stroke-width="1"/>
<path d="M369.0 113.1 L372.5 113.0 L376.5 113.4 L379.0 113.9 L383.0 114.8 L386.2 113.0 L391.1 107.0 L395.2 107.8 L398.1 108.6 L400.5 108.7 L405.9 110.2 L411.3 109.6 L417.8 109.1 L423.2 110.2 L429.6 109.2 L436.5 108.7 L444.0 105.6 L452.6 107.1 L455.8 105.6 L461.2 100.3 L466.6 96.8 L472.0 93.1 L475.8 85.0 L478.5 77.8 L480.2 85.0 L482.8 101.2 L484.9 110.3 L488.2 112.5 L493.5 113.2 L500.4 115.6 L505.8 113.5 L512.2 110.8 L515.5 110.3 L518.2 107.6" fill="none" stroke="#f2a8e0" stroke-width="3.8" stroke-linejoin="round" stroke-linecap="round"/>
<path d="M523.5 111.0 L531.6 113.5 L538.1 111.9 L544.5 113.5 L551.0 111.4 L556.4 110.8 L560.0 110.8 L564.3 111.9 L570.2 109.2 L576.2 112.5 L583.7 113.2 L589.1 112.8 L593.4 110.8 L600.9 113.5 L606.3 111.9 L611.7 113.5 L617.1 111.9 L622.5 110.3 L626.8 106.5 L631.2 104.2 L636.5 102.8 L641.9 109.6 L646.2 110.8 L650.5 114.0 L655.9 117.0 L661.3 115.6 L666.7 116.2 L671.5 115.1" fill="none" stroke="#f2a8e0" stroke-width="3.8" stroke-linejoin="round" stroke-linecap="round"/>
<path d="M436.5 108.7 L444.0 105.6 L452.6 107.1 L455.8 105.6 L461.2 100.3 L466.6 96.8 L472.0 93.1 L475.8 85.0" fill="none" stroke="#f2a8e0" stroke-width="5.4" stroke-linejoin="round" stroke-linecap="round"/>
<path d="M560.0 110.8 L564.3 111.9 L570.2 109.2 L576.2 112.5 L583.7 113.2 L589.1 112.8 L593.4 110.8 L600.9 113.5 L606.3 111.9 L611.7 113.5 L617.1 111.9 L622.5 110.3 L626.8 106.5 L631.2 104.2 L636.5 102.8" fill="none" stroke="#f2a8e0" stroke-width="5.4" stroke-linejoin="round" stroke-linecap="round"/>
<path d="M477.2 77.5 L478.5 74.8 L479.8 77.5 Z" fill="#f2a8e0" stroke="#f2a8e0" stroke-width="1.2"/>
<path d="M368.8 103.7 L371.5 102.6 L375.2 98.8 L377.9 101.5 L381.2 105.3 L383.8 105.3 L386.5 101.5 L388.7 94.0 L390.8 88.8 L395.2 90.8 L398.4 90.2 L402.7 90.2 L405.9 92.4 L409.2 94.5 L414.5 96.2 L419.4 93.5 L423.2 95.6 L427.5 94.5 L430.0 94.4 L433.8 94.8 L437.5 90.8 L443.0 86.8 L448.3 85.0 L452.6 83.5 L458.0 78.5 L461.2 78.0 L464.5 75.0 L468.8 68.5 L472.5 62.0 L475.2 53.0 L477.2 42.0 L479.0 33.8 L481.0 43.0 L482.6 58.0 L484.2 75.0 L485.4 88.0 L487.2 96.2 L490.3 102.2 L494.6 106.2 L500.0 108.8 L503.6 110.3 L509.0 105.5 L513.8 101.2 L518.2 103.3" fill="none" stroke="#0505ee" stroke-width="2.8" stroke-linejoin="round" stroke-linecap="round"/>
<path d="M523.5 101.2 L530.0 104.9 L533.8 102.2 L538.1 106.5 L542.4 109.8 L546.7 110.8 L551.0 108.2 L555.3 103.8 L559.6 104.4 L565.0 105.3 L571.3 102.2 L577.2 106.0 L582.6 106.0 L586.9 107.1 L590.7 104.4 L595.5 107.1 L603.1 107.6 L608.5 106.5 L613.8 107.6 L619.2 104.2 L624.2 101.2 L627.9 102.4 L630.6 98.7 L635.5 89.3 L641.4 96.0 L645.2 97.6 L649.5 103.0 L653.8 109.5 L657.0 112.6 L660.2 110.5 L663.5 108.6 L665.6 106.5 L671.5 101.9" fill="none" stroke="#0505ee" stroke-width="2.8" stroke-linejoin="round" stroke-linecap="round"/>
<path d="M369.0 113.1 L372.5 113.0 L376.5 113.4 L379.0 113.9 L383.0 114.8 L386.2 113.0 L391.1 107.0 L395.2 107.8 L398.1 108.6 L400.5 108.7 L405.9 110.2 L411.3 109.6 L417.8 109.1 L423.2 110.2 L429.6 109.2 L436.5 108.7 L444.0 105.6 L452.6 107.1 L455.8 105.6 L461.2 100.3 L466.6 96.8 L472.0 93.1 L475.8 85.0 L478.5 77.8 L480.2 85.0 L482.8 101.2 L484.9 110.3 L488.2 112.5 L493.5 113.2 L500.4 115.6 L505.8 113.5 L512.2 110.8 L515.5 110.3 L518.2 107.6" fill="none" stroke="#ff0a0a" stroke-width="2.6" stroke-linejoin="round" stroke-linecap="round"/>
<path d="M523.5 111.0 L531.6 113.5 L538.1 111.9 L544.5 113.5 L551.0 111.4 L556.4 110.8 L560.0 110.8 L564.3 111.9 L570.2 109.2 L576.2 112.5 L583.7 113.2 L589.1 112.8 L593.4 110.8 L600.9 113.5 L606.3 111.9 L611.7 113.5 L617.1 111.9 L622.5 110.3 L626.8 106.5 L631.2 104.2 L636.5 102.8 L641.9 109.6 L646.2 110.8 L650.5 114.0 L655.9 117.0 L661.3 115.6 L666.7 116.2 L671.5 115.1" fill="none" stroke="#ff0a0a" stroke-width="2.6" stroke-linejoin="round" stroke-linecap="round"/>
<text transform="translate(342.4,183.6) scale(1,1.06)" font-size="17.5" fill="#222" font-weight="bold">C</text>
<text transform="translate(422.7,187.5) scale(1,1.08)" font-size="12.35" fill="#222" text-anchor="start" font-weight="normal" >Delay firing</text>
<text transform="translate(361.3,248.95) rotate(-90) scale(1,1.08)" font-size="9.28" fill="#333" text-anchor="middle">Firing Rate (spikes/s)</text>
<text transform="translate(370.6,204.2) scale(1,1.08)" font-size="10.5" fill="#333" text-anchor="end" font-weight="normal" >40</text>
<text transform="translate(371.0,296.4) scale(1,1.08)" font-size="10.5" fill="#333" text-anchor="end" font-weight="normal" >0</text>
<line x1="372.5" y1="200.1" x2="372.5" y2="295.3" stroke="#444" stroke-width="1.0" />
<line x1="372.5" y1="295.3" x2="549.0" y2="295.3" stroke="#555" stroke-width="1.0" />
<line x1="372.5" y1="204.4" x2="374.0" y2="204.4" stroke="#444" stroke-width="0.8" />
<line x1="372.5" y1="227.2" x2="374.0" y2="227.2" stroke="#444" stroke-width="0.8" />
<line x1="372.5" y1="250.0" x2="374.0" y2="250.0" stroke="#444" stroke-width="0.8" />
<line x1="372.5" y1="272.7" x2="374.0" y2="272.7" stroke="#444" stroke-width="0.8" />
<line x1="407.0" y1="211.4" x2="435.6" y2="240.1" stroke="#4a4a4a" stroke-width="0.7" />
<line x1="407.0" y1="241.6" x2="435.6" y2="268.5" stroke="#4a4a4a" stroke-width="0.7" />
<line x1="407.0" y1="245.4" x2="435.6" y2="272.0" stroke="#4a4a4a" stroke-width="0.7" />
<line x1="407.0" y1="254.7" x2="435.6" y2="271.0" stroke="#4a4a4a" stroke-width="0.7" />
<line x1="407.0" y1="256.0" x2="435.6" y2="274.5" stroke="#4a4a4a" stroke-width="0.7" />
<line x1="407.0" y1="257.5" x2="435.6" y2="273.0" stroke="#4a4a4a" stroke-width="0.7" />
<line x1="407.0" y1="258.5" x2="435.6" y2="277.0" stroke="#4a4a4a" stroke-width="0.7" />
<line x1="407.0" y1="259.5" x2="435.6" y2="275.5" stroke="#4a4a4a" stroke-width="0.7" />
<line x1="407.0" y1="260.5" x2="435.6" y2="279.5" stroke="#4a4a4a" stroke-width="0.7" />
<line x1="407.0" y1="262.0" x2="435.6" y2="281.0" stroke="#4a4a4a" stroke-width="0.7" />
<line x1="407.0" y1="271.5" x2="435.6" y2="277.0" stroke="#4a4a4a" stroke-width="0.7" />
<line x1="407.0" y1="272.8" x2="435.6" y2="280.5" stroke="#4a4a4a" stroke-width="0.7" />
<line x1="407.0" y1="274.0" x2="435.6" y2="283.0" stroke="#4a4a4a" stroke-width="0.7" />
<line x1="407.0" y1="275.5" x2="435.6" y2="279.0" stroke="#4a4a4a" stroke-width="0.7" />
<line x1="485.0" y1="245.0" x2="513.0" y2="246.0" stroke="#4a4a4a" stroke-width="0.7" />
<line x1="485.0" y1="265.4" x2="513.0" y2="280.0" stroke="#4a4a4a" stroke-width="0.7" />
<line x1="485.0" y1="276.0" x2="513.0" y2="278.0" stroke="#4a4a4a" stroke-width="0.7" />
<line x1="485.0" y1="277.5" x2="513.0" y2="283.0" stroke="#4a4a4a" stroke-width="0.7" />
<line x1="485.0" y1="279.0" x2="513.0" y2="281.0" stroke="#4a4a4a" stroke-width="0.7" />
<line x1="485.0" y1="281.0" x2="513.0" y2="285.5" stroke="#4a4a4a" stroke-width="0.7" />
<line x1="485.0" y1="283.0" x2="513.0" y2="279.5" stroke="#4a4a4a" stroke-width="0.7" />
<line x1="485.0" y1="284.5" x2="513.0" y2="287.0" stroke="#4a4a4a" stroke-width="0.7" />
<line x1="485.0" y1="286.0" x2="513.0" y2="283.5" stroke="#4a4a4a" stroke-width="0.7" />
<line x1="485.0" y1="287.5" x2="513.0" y2="289.5" stroke="#4a4a4a" stroke-width="0.7" />
<line x1="485.0" y1="289.0" x2="513.0" y2="286.0" stroke="#4a4a4a" stroke-width="0.7" />
<line x1="485.0" y1="290.5" x2="513.0" y2="292.5" stroke="#4a4a4a" stroke-width="0.7" />
<line x1="485.0" y1="291.5" x2="513.0" y2="288.5" stroke="#4a4a4a" stroke-width="0.7" />
<line x1="485.0" y1="292.5" x2="513.0" y2="293.5" stroke="#4a4a4a" stroke-width="0.7" />
<rect x="398.4" y="253.4" width="19.4" height="41.9" fill="none" stroke="#2e3192" stroke-width="1.6"/>
<line x1="408.1" y1="249.7" x2="408.1" y2="253.4" stroke="#2e3192" stroke-width="1.3" />
<line x1="406.2" y1="249.7" x2="410.0" y2="249.7" stroke="#2e3192" stroke-width="1.3" />
<rect x="425.6" y="277.2" width="19.0" height="18.1" fill="none" stroke="#ec2a35" stroke-width="1.5"/>
<line x1="435.3" y1="274.4" x2="435.3" y2="277.2" stroke="#ec2a35" stroke-width="1.2" />
<line x1="433.8" y1="274.4" x2="436.8" y2="274.4" stroke="#ec2a35" stroke-width="1.0" />
<text transform="translate(436.7,271.0) scale(1,1.08)" font-size="9.5" fill="#444" text-anchor="middle" font-weight="normal" >***</text>
<rect x="475.6" y="275.6" width="19.8" height="19.7" fill="none" stroke="#2e3192" stroke-width="1.6"/>
<line x1="486.0" y1="272.4" x2="486.0" y2="275.6" stroke="#2e3192" stroke-width="1.2" />
<line x1="484.3" y1="272.4" x2="487.7" y2="272.4" stroke="#2e3192" stroke-width="1.2" />
<rect x="502.4" y="282.2" width="19.6" height="13.1" fill="none" stroke="#ec2a35" stroke-width="1.5"/>
<line x1="512.6" y1="279.4" x2="512.6" y2="282.2" stroke="#ec2a35" stroke-width="1.0" />
<text transform="translate(512.2,278.8) scale(1,1.08)" font-size="9.5" fill="#444" text-anchor="middle" font-weight="normal" >**</text>
<text transform="translate(392.0,307.6) scale(1,1.08)" font-size="8.5" fill="#111" text-anchor="start" font-weight="normal" >Control</text>
<text transform="translate(423.9,307.6) scale(1,1.08)" font-size="8.4" fill="#ec2a35" text-anchor="start" font-weight="normal" >TCN237</text>
<text transform="translate(383.7,319.3) scale(1,1.08)" font-size="8.1" fill="#333" text-anchor="start" font-weight="normal" >Preferred Direction</text>
<text transform="translate(469.5,307.6) scale(1,1.08)" font-size="8.4" fill="#111" text-anchor="start" font-weight="normal" >Control</text>
<text transform="translate(500.3,307.6) scale(1,1.08)" font-size="8.4" fill="#ec2a35" text-anchor="start" font-weight="normal" >TCN237</text>
<text transform="translate(470.0,318.6) scale(1,1.08)" font-size="8.1" fill="#333" text-anchor="start" font-weight="normal" >Nonpreferred Direction</text>
<text transform="translate(549.9,184.3) scale(1,1.07)" font-size="17.5" fill="#222" font-weight="bold">D</text>
<text transform="translate(572.7,187.6) scale(1,1.1)" font-size="12.45" fill="#222">d' (spatial tuning)</text>
<line x1="560.2" y1="201.5" x2="560.2" y2="295.3" stroke="#555" stroke-width="1.0" />
<line x1="560.2" y1="295.3" x2="685" y2="295.3" stroke="#555" stroke-width="1.0" />
<line x1="560.2" y1="205.8" x2="561.7" y2="205.8" stroke="#444" stroke-width="0.8" />
<text transform="translate(558.2,208.0) scale(1,1.08)" font-size="6.8" fill="#333" text-anchor="end" font-weight="normal" >2</text>
<line x1="560.2" y1="228.2" x2="561.7" y2="228.2" stroke="#444" stroke-width="0.8" />
<text transform="translate(559.0,230.39999999999998) scale(1,1.08)" font-size="6.8" fill="#333" text-anchor="end" font-weight="normal" >1.5</text>
<line x1="560.2" y1="250.5" x2="561.7" y2="250.5" stroke="#444" stroke-width="0.8" />
<text transform="translate(559.0,252.7) scale(1,1.08)" font-size="6.8" fill="#333" text-anchor="end" font-weight="normal" >1</text>
<line x1="560.2" y1="273.3" x2="561.7" y2="273.3" stroke="#444" stroke-width="0.8" />
<text transform="translate(559.0,275.5) scale(1,1.08)" font-size="6.8" fill="#333" text-anchor="end" font-weight="normal" >0.5</text>
<line x1="560.2" y1="295.5" x2="561.7" y2="295.5" stroke="#444" stroke-width="0.8" />
<text transform="translate(559.0,297.7) scale(1,1.08)" font-size="6.8" fill="#333" text-anchor="end" font-weight="normal" >0</text>
<text transform="translate(550.4,251.4) rotate(-90)" font-size="8.5" fill="#333" text-anchor="middle">d'</text>
<rect x="587.1" y="211.4" width="18.8" height="83.9" fill="none" stroke="#4848d8" stroke-width="1.3"/>
<line x1="596.5" y1="206.0" x2="596.5" y2="211.4" stroke="#4848d8" stroke-width="1.1" />
<line x1="594.9" y1="206.0" x2="598.2" y2="206.0" stroke="#4848d8" stroke-width="1.1" />
<rect x="633.3" y="262.6" width="19.1" height="32.7" fill="none" stroke="#f03c3c" stroke-width="1.3"/>
<line x1="643.4" y1="258.5" x2="643.4" y2="262.6" stroke="#f03c3c" stroke-width="1.1" />
<line x1="642.0" y1="258.5" x2="645.0" y2="258.5" stroke="#f03c3c" stroke-width="1.1" />
<text transform="translate(643.6,258.8) scale(1,1.08)" font-size="9.5" fill="#444" text-anchor="middle" font-weight="normal" >***</text>
<text transform="translate(579.9,308.0) scale(1,1.08)" font-size="8.4" fill="#111" text-anchor="start" font-weight="normal" >Control</text>
<text transform="translate(627.8,308.0) scale(1,1.08)" font-size="8.4" fill="#ec2a35" text-anchor="start" font-weight="normal" >TCN237</text>
</svg></body></html>
